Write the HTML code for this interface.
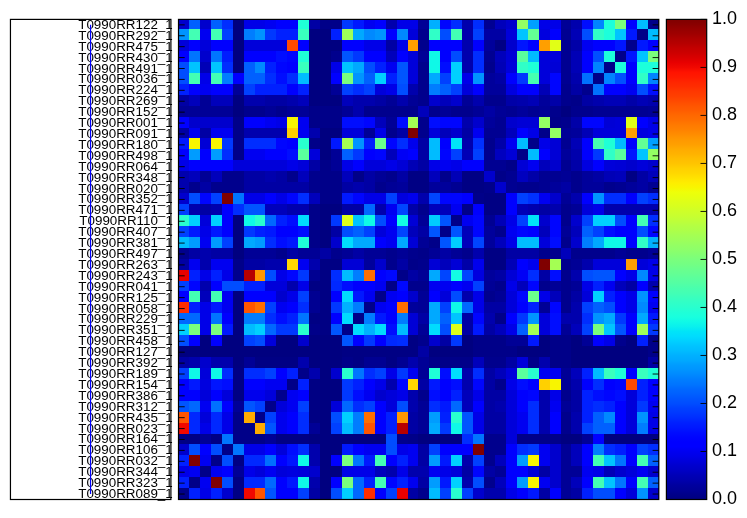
<!DOCTYPE html>
<html><head><meta charset="utf-8"><title>heatmap</title>
<style>
html,body{margin:0;padding:0;background:#fff}
body{width:747px;height:518px;position:relative;overflow:hidden;font-family:"Liberation Sans",sans-serif;color:#000}
svg{position:absolute;left:0;top:0}
.yl{will-change:transform;position:absolute;right:574.3px;height:12px;line-height:12px;font-size:12px;white-space:nowrap;transform-origin:100% 50%;transform:scaleX(1.115)}
.cl{will-change:transform;position:absolute;left:711.8px;height:18px;line-height:18px;font-size:18px;white-space:nowrap;transform-origin:0 50%;transform:scaleX(1)}
</style></head><body>

<svg width="747" height="518" viewBox="0 0 747 518">
<defs><linearGradient id="jet" x1="0" y1="1" x2="0" y2="0">
<stop offset="0" stop-color="#000080"/>
<stop offset="0.01" stop-color="#000089"/>
<stop offset="0.02" stop-color="#000096"/>
<stop offset="0.03" stop-color="#00009f"/>
<stop offset="0.04" stop-color="#0000ad"/>
<stop offset="0.05" stop-color="#0000b6"/>
<stop offset="0.06" stop-color="#0000c4"/>
<stop offset="0.07" stop-color="#0000cd"/>
<stop offset="0.08" stop-color="#0000da"/>
<stop offset="0.09" stop-color="#0000e8"/>
<stop offset="0.1" stop-color="#0000f1"/>
<stop offset="0.11" stop-color="#0000ff"/>
<stop offset="0.12" stop-color="#0000ff"/>
<stop offset="0.13" stop-color="#0005ff"/>
<stop offset="0.14" stop-color="#000dff"/>
<stop offset="0.15" stop-color="#0018ff"/>
<stop offset="0.16" stop-color="#0020ff"/>
<stop offset="0.17" stop-color="#002dff"/>
<stop offset="0.18" stop-color="#0038ff"/>
<stop offset="0.19" stop-color="#0040ff"/>
<stop offset="0.2" stop-color="#004dff"/>
<stop offset="0.21" stop-color="#0055ff"/>
<stop offset="0.22" stop-color="#0060ff"/>
<stop offset="0.23" stop-color="#0068ff"/>
<stop offset="0.24" stop-color="#0075ff"/>
<stop offset="0.25" stop-color="#007dff"/>
<stop offset="0.26" stop-color="#0089ff"/>
<stop offset="0.27" stop-color="#0094ff"/>
<stop offset="0.28" stop-color="#009cff"/>
<stop offset="0.29" stop-color="#00a9ff"/>
<stop offset="0.3" stop-color="#00b0ff"/>
<stop offset="0.31" stop-color="#00bcff"/>
<stop offset="0.32" stop-color="#00c4ff"/>
<stop offset="0.33" stop-color="#00d0ff"/>
<stop offset="0.34" stop-color="#00dcfe"/>
<stop offset="0.35" stop-color="#00e4f8"/>
<stop offset="0.36" stop-color="#09f0ee"/>
<stop offset="0.37" stop-color="#0ff9e7"/>
<stop offset="0.38" stop-color="#19ffde"/>
<stop offset="0.39" stop-color="#1fffd7"/>
<stop offset="0.4" stop-color="#29ffce"/>
<stop offset="0.41" stop-color="#30ffc7"/>
<stop offset="0.42" stop-color="#39ffbe"/>
<stop offset="0.43" stop-color="#43ffb4"/>
<stop offset="0.44" stop-color="#49ffad"/>
<stop offset="0.45" stop-color="#53ffa4"/>
<stop offset="0.46" stop-color="#5aff9d"/>
<stop offset="0.47" stop-color="#63ff94"/>
<stop offset="0.48" stop-color="#6aff8d"/>
<stop offset="0.49" stop-color="#73ff83"/>
<stop offset="0.5" stop-color="#7aff7d"/>
<stop offset="0.51" stop-color="#83ff73"/>
<stop offset="0.52" stop-color="#8dff6a"/>
<stop offset="0.53" stop-color="#94ff63"/>
<stop offset="0.54" stop-color="#9dff5a"/>
<stop offset="0.55" stop-color="#a4ff53"/>
<stop offset="0.56" stop-color="#adff49"/>
<stop offset="0.57" stop-color="#b4ff43"/>
<stop offset="0.58" stop-color="#beff39"/>
<stop offset="0.59" stop-color="#c7ff30"/>
<stop offset="0.6" stop-color="#ceff29"/>
<stop offset="0.61" stop-color="#d7ff1f"/>
<stop offset="0.62" stop-color="#deff19"/>
<stop offset="0.63" stop-color="#e7ff0f"/>
<stop offset="0.64" stop-color="#eeff09"/>
<stop offset="0.65" stop-color="#f8f500"/>
<stop offset="0.66" stop-color="#feed00"/>
<stop offset="0.67" stop-color="#ffe200"/>
<stop offset="0.68" stop-color="#ffd700"/>
<stop offset="0.69" stop-color="#ffd000"/>
<stop offset="0.7" stop-color="#ffc400"/>
<stop offset="0.71" stop-color="#ffbd00"/>
<stop offset="0.72" stop-color="#ffb200"/>
<stop offset="0.73" stop-color="#ffab00"/>
<stop offset="0.74" stop-color="#ff9f00"/>
<stop offset="0.75" stop-color="#ff9800"/>
<stop offset="0.76" stop-color="#ff8d00"/>
<stop offset="0.77" stop-color="#ff8200"/>
<stop offset="0.78" stop-color="#ff7a00"/>
<stop offset="0.79" stop-color="#ff6f00"/>
<stop offset="0.8" stop-color="#ff6800"/>
<stop offset="0.81" stop-color="#ff5d00"/>
<stop offset="0.82" stop-color="#ff5500"/>
<stop offset="0.83" stop-color="#ff4a00"/>
<stop offset="0.84" stop-color="#ff3f00"/>
<stop offset="0.85" stop-color="#ff3800"/>
<stop offset="0.86" stop-color="#ff2d00"/>
<stop offset="0.87" stop-color="#ff2500"/>
<stop offset="0.88" stop-color="#ff1a00"/>
<stop offset="0.89" stop-color="#ff1300"/>
<stop offset="0.9" stop-color="#f10800"/>
<stop offset="0.91" stop-color="#e80000"/>
<stop offset="0.92" stop-color="#da0000"/>
<stop offset="0.93" stop-color="#cd0000"/>
<stop offset="0.94" stop-color="#c40000"/>
<stop offset="0.95" stop-color="#b60000"/>
<stop offset="0.96" stop-color="#ad0000"/>
<stop offset="0.97" stop-color="#9f0000"/>
<stop offset="0.98" stop-color="#960000"/>
<stop offset="0.99" stop-color="#890000"/>
<stop offset="1" stop-color="#800000"/>
</linearGradient></defs>
<g shape-rendering="crispEdges">
<rect x="178" y="19" width="11" height="10" fill="#0000cd"/>
<rect x="189" y="19" width="11" height="10" fill="#0060ff"/>
<rect x="200" y="19" width="11" height="10" fill="#0000cd"/>
<rect x="211" y="19" width="11" height="10" fill="#0060ff"/>
<rect x="222" y="19" width="11" height="10" fill="#002dff"/>
<rect x="233" y="19" width="11" height="10" fill="#000080"/>
<rect x="244" y="19" width="11" height="10" fill="#0000e8"/>
<rect x="255" y="19" width="10" height="10" fill="#0000e8"/>
<rect x="265" y="19" width="11" height="10" fill="#0000f1"/>
<rect x="276" y="19" width="11" height="10" fill="#0000ff"/>
<rect x="287" y="19" width="11" height="10" fill="#0000ff"/>
<rect x="298" y="19" width="11" height="10" fill="#1fffd7"/>
<rect x="309" y="19" width="11" height="10" fill="#0000a4"/>
<rect x="320" y="19" width="11" height="10" fill="#000089"/>
<rect x="331" y="19" width="11" height="10" fill="#000089"/>
<rect x="342" y="19" width="11" height="10" fill="#0038ff"/>
<rect x="353" y="19" width="11" height="10" fill="#0018ff"/>
<rect x="364" y="19" width="11" height="10" fill="#0000f1"/>
<rect x="375" y="19" width="11" height="10" fill="#0000ff"/>
<rect x="386" y="19" width="11" height="10" fill="#0000ad"/>
<rect x="397" y="19" width="11" height="10" fill="#0000e8"/>
<rect x="408" y="19" width="10" height="10" fill="#0000e8"/>
<rect x="418" y="19" width="11" height="10" fill="#000096"/>
<rect x="429" y="19" width="11" height="10" fill="#00b0ff"/>
<rect x="440" y="19" width="11" height="10" fill="#0005ff"/>
<rect x="451" y="19" width="11" height="10" fill="#002dff"/>
<rect x="462" y="19" width="11" height="10" fill="#0000ad"/>
<rect x="473" y="19" width="11" height="10" fill="#002dff"/>
<rect x="484" y="19" width="11" height="10" fill="#000092"/>
<rect x="495" y="19" width="11" height="10" fill="#0000bb"/>
<rect x="506" y="19" width="11" height="10" fill="#0000cd"/>
<rect x="517" y="19" width="11" height="10" fill="#94ff63"/>
<rect x="528" y="19" width="11" height="10" fill="#00a0ff"/>
<rect x="539" y="19" width="11" height="10" fill="#0000e8"/>
<rect x="550" y="19" width="11" height="10" fill="#0000e8"/>
<rect x="561" y="19" width="10" height="10" fill="#000096"/>
<rect x="571" y="19" width="11" height="10" fill="#0000ad"/>
<rect x="582" y="19" width="11" height="10" fill="#000dff"/>
<rect x="593" y="19" width="11" height="10" fill="#0084ff"/>
<rect x="604" y="19" width="11" height="10" fill="#1cffdb"/>
<rect x="615" y="19" width="11" height="10" fill="#7aff7d"/>
<rect x="626" y="19" width="11" height="10" fill="#0000ff"/>
<rect x="637" y="19" width="11" height="10" fill="#00bcff"/>
<rect x="648" y="19" width="11" height="10" fill="#000089"/>
<rect x="178" y="29" width="11" height="11" fill="#0094ff"/>
<rect x="189" y="29" width="11" height="11" fill="#43ffb4"/>
<rect x="200" y="29" width="11" height="11" fill="#0000f1"/>
<rect x="211" y="29" width="11" height="11" fill="#43ffb4"/>
<rect x="222" y="29" width="11" height="11" fill="#0040ff"/>
<rect x="233" y="29" width="11" height="11" fill="#000080"/>
<rect x="244" y="29" width="11" height="11" fill="#007dff"/>
<rect x="255" y="29" width="10" height="11" fill="#0094ff"/>
<rect x="265" y="29" width="11" height="11" fill="#0038ff"/>
<rect x="276" y="29" width="11" height="11" fill="#0020ff"/>
<rect x="287" y="29" width="11" height="11" fill="#0020ff"/>
<rect x="298" y="29" width="11" height="11" fill="#39ffbe"/>
<rect x="309" y="29" width="11" height="11" fill="#000080"/>
<rect x="320" y="29" width="11" height="11" fill="#000080"/>
<rect x="331" y="29" width="11" height="11" fill="#0020ff"/>
<rect x="342" y="29" width="11" height="11" fill="#9dff5a"/>
<rect x="353" y="29" width="11" height="11" fill="#00a9ff"/>
<rect x="364" y="29" width="11" height="11" fill="#0089ff"/>
<rect x="375" y="29" width="11" height="11" fill="#0094ff"/>
<rect x="386" y="29" width="11" height="11" fill="#0000ff"/>
<rect x="397" y="29" width="11" height="11" fill="#0089ff"/>
<rect x="408" y="29" width="10" height="11" fill="#0000da"/>
<rect x="418" y="29" width="11" height="11" fill="#00008d"/>
<rect x="429" y="29" width="11" height="11" fill="#30ffc7"/>
<rect x="440" y="29" width="11" height="11" fill="#004dff"/>
<rect x="451" y="29" width="11" height="11" fill="#43ffb4"/>
<rect x="462" y="29" width="11" height="11" fill="#0000ad"/>
<rect x="473" y="29" width="11" height="11" fill="#0040ff"/>
<rect x="484" y="29" width="11" height="11" fill="#0000a4"/>
<rect x="495" y="29" width="11" height="11" fill="#0000a4"/>
<rect x="506" y="29" width="11" height="11" fill="#0000da"/>
<rect x="517" y="29" width="11" height="11" fill="#00c4ff"/>
<rect x="528" y="29" width="11" height="11" fill="#63ff94"/>
<rect x="539" y="29" width="11" height="11" fill="#0000df"/>
<rect x="550" y="29" width="11" height="11" fill="#0000ff"/>
<rect x="561" y="29" width="10" height="11" fill="#000092"/>
<rect x="571" y="29" width="11" height="11" fill="#0000b6"/>
<rect x="582" y="29" width="11" height="11" fill="#004dff"/>
<rect x="593" y="29" width="11" height="11" fill="#30ffc7"/>
<rect x="604" y="29" width="11" height="11" fill="#1cffdb"/>
<rect x="615" y="29" width="11" height="11" fill="#00c4ff"/>
<rect x="626" y="29" width="11" height="11" fill="#0018ff"/>
<rect x="637" y="29" width="11" height="11" fill="#000089"/>
<rect x="648" y="29" width="11" height="11" fill="#00bcff"/>
<rect x="178" y="40" width="11" height="11" fill="#0000da"/>
<rect x="189" y="40" width="11" height="11" fill="#0000ff"/>
<rect x="200" y="40" width="11" height="11" fill="#0000da"/>
<rect x="211" y="40" width="11" height="11" fill="#0000ff"/>
<rect x="222" y="40" width="11" height="11" fill="#0000ff"/>
<rect x="233" y="40" width="11" height="11" fill="#000080"/>
<rect x="244" y="40" width="11" height="11" fill="#0000da"/>
<rect x="255" y="40" width="10" height="11" fill="#0000da"/>
<rect x="265" y="40" width="11" height="11" fill="#0000da"/>
<rect x="276" y="40" width="11" height="11" fill="#0000da"/>
<rect x="287" y="40" width="11" height="11" fill="#ff4a00"/>
<rect x="298" y="40" width="11" height="11" fill="#0000ff"/>
<rect x="309" y="40" width="11" height="11" fill="#000080"/>
<rect x="320" y="40" width="11" height="11" fill="#000080"/>
<rect x="331" y="40" width="11" height="11" fill="#000080"/>
<rect x="342" y="40" width="11" height="11" fill="#0000ff"/>
<rect x="353" y="40" width="11" height="11" fill="#0000ff"/>
<rect x="364" y="40" width="11" height="11" fill="#0000e8"/>
<rect x="375" y="40" width="11" height="11" fill="#0000e8"/>
<rect x="386" y="40" width="11" height="11" fill="#0000a4"/>
<rect x="397" y="40" width="11" height="11" fill="#0000e8"/>
<rect x="408" y="40" width="10" height="11" fill="#ff9f00"/>
<rect x="418" y="40" width="11" height="11" fill="#00008d"/>
<rect x="429" y="40" width="11" height="11" fill="#0000ff"/>
<rect x="440" y="40" width="11" height="11" fill="#0000ff"/>
<rect x="451" y="40" width="11" height="11" fill="#0000ff"/>
<rect x="462" y="40" width="11" height="11" fill="#0000ad"/>
<rect x="473" y="40" width="11" height="11" fill="#0000ff"/>
<rect x="484" y="40" width="11" height="11" fill="#00009b"/>
<rect x="495" y="40" width="11" height="11" fill="#000084"/>
<rect x="506" y="40" width="11" height="11" fill="#0000cd"/>
<rect x="517" y="40" width="11" height="11" fill="#0015ff"/>
<rect x="528" y="40" width="11" height="11" fill="#0000ff"/>
<rect x="539" y="40" width="11" height="11" fill="#ff9f00"/>
<rect x="550" y="40" width="11" height="11" fill="#e1ff16"/>
<rect x="561" y="40" width="10" height="11" fill="#000092"/>
<rect x="571" y="40" width="11" height="11" fill="#0000a8"/>
<rect x="582" y="40" width="11" height="11" fill="#0000f1"/>
<rect x="593" y="40" width="11" height="11" fill="#0000ff"/>
<rect x="604" y="40" width="11" height="11" fill="#0000ff"/>
<rect x="615" y="40" width="11" height="11" fill="#0015ff"/>
<rect x="626" y="40" width="11" height="11" fill="#00008d"/>
<rect x="637" y="40" width="11" height="11" fill="#0018ff"/>
<rect x="648" y="40" width="11" height="11" fill="#0000ff"/>
<rect x="178" y="51" width="11" height="11" fill="#0000ff"/>
<rect x="189" y="51" width="11" height="11" fill="#0075ff"/>
<rect x="200" y="51" width="11" height="11" fill="#0000cd"/>
<rect x="211" y="51" width="11" height="11" fill="#0075ff"/>
<rect x="222" y="51" width="11" height="11" fill="#001dff"/>
<rect x="233" y="51" width="11" height="11" fill="#000080"/>
<rect x="244" y="51" width="11" height="11" fill="#0000ff"/>
<rect x="255" y="51" width="10" height="11" fill="#0000ff"/>
<rect x="265" y="51" width="11" height="11" fill="#0000ff"/>
<rect x="276" y="51" width="11" height="11" fill="#000dff"/>
<rect x="287" y="51" width="11" height="11" fill="#0005ff"/>
<rect x="298" y="51" width="11" height="11" fill="#1fffd7"/>
<rect x="309" y="51" width="11" height="11" fill="#000080"/>
<rect x="320" y="51" width="11" height="11" fill="#000080"/>
<rect x="331" y="51" width="11" height="11" fill="#00008d"/>
<rect x="342" y="51" width="11" height="11" fill="#0055ff"/>
<rect x="353" y="51" width="11" height="11" fill="#0038ff"/>
<rect x="364" y="51" width="11" height="11" fill="#0000ff"/>
<rect x="375" y="51" width="11" height="11" fill="#0000ff"/>
<rect x="386" y="51" width="11" height="11" fill="#0000bb"/>
<rect x="397" y="51" width="11" height="11" fill="#0000ff"/>
<rect x="408" y="51" width="10" height="11" fill="#0000da"/>
<rect x="418" y="51" width="11" height="11" fill="#000096"/>
<rect x="429" y="51" width="11" height="11" fill="#0ff9e7"/>
<rect x="440" y="51" width="11" height="11" fill="#0000ff"/>
<rect x="451" y="51" width="11" height="11" fill="#004dff"/>
<rect x="462" y="51" width="11" height="11" fill="#0000ad"/>
<rect x="473" y="51" width="11" height="11" fill="#002dff"/>
<rect x="484" y="51" width="11" height="11" fill="#000092"/>
<rect x="495" y="51" width="11" height="11" fill="#0000bb"/>
<rect x="506" y="51" width="11" height="11" fill="#0000d6"/>
<rect x="517" y="51" width="11" height="11" fill="#5aff9d"/>
<rect x="528" y="51" width="11" height="11" fill="#00b9ff"/>
<rect x="539" y="51" width="11" height="11" fill="#0000da"/>
<rect x="550" y="51" width="11" height="11" fill="#0000da"/>
<rect x="561" y="51" width="10" height="11" fill="#000092"/>
<rect x="571" y="51" width="11" height="11" fill="#0000b6"/>
<rect x="582" y="51" width="11" height="11" fill="#0000ff"/>
<rect x="593" y="51" width="11" height="11" fill="#0050ff"/>
<rect x="604" y="51" width="11" height="11" fill="#1cffdb"/>
<rect x="615" y="51" width="11" height="11" fill="#000089"/>
<rect x="626" y="51" width="11" height="11" fill="#0015ff"/>
<rect x="637" y="51" width="11" height="11" fill="#00c4ff"/>
<rect x="648" y="51" width="11" height="11" fill="#7aff7d"/>
<rect x="178" y="62" width="11" height="11" fill="#004dff"/>
<rect x="189" y="62" width="11" height="11" fill="#00c4ff"/>
<rect x="200" y="62" width="11" height="11" fill="#0000b6"/>
<rect x="211" y="62" width="11" height="11" fill="#00c4ff"/>
<rect x="222" y="62" width="11" height="11" fill="#002dff"/>
<rect x="233" y="62" width="11" height="11" fill="#000080"/>
<rect x="244" y="62" width="11" height="11" fill="#0060ff"/>
<rect x="255" y="62" width="10" height="11" fill="#0089ff"/>
<rect x="265" y="62" width="11" height="11" fill="#0020ff"/>
<rect x="276" y="62" width="11" height="11" fill="#0005ff"/>
<rect x="287" y="62" width="11" height="11" fill="#0000ff"/>
<rect x="298" y="62" width="11" height="11" fill="#39ffbe"/>
<rect x="309" y="62" width="11" height="11" fill="#000080"/>
<rect x="320" y="62" width="11" height="11" fill="#000080"/>
<rect x="331" y="62" width="11" height="11" fill="#0000e8"/>
<rect x="342" y="62" width="11" height="11" fill="#00c4ff"/>
<rect x="353" y="62" width="11" height="11" fill="#00a9ff"/>
<rect x="364" y="62" width="11" height="11" fill="#004dff"/>
<rect x="375" y="62" width="11" height="11" fill="#0020ff"/>
<rect x="386" y="62" width="11" height="11" fill="#0000f1"/>
<rect x="397" y="62" width="11" height="11" fill="#0055ff"/>
<rect x="408" y="62" width="10" height="11" fill="#0000da"/>
<rect x="418" y="62" width="11" height="11" fill="#00008d"/>
<rect x="429" y="62" width="11" height="11" fill="#0ff9e7"/>
<rect x="440" y="62" width="11" height="11" fill="#000dff"/>
<rect x="451" y="62" width="11" height="11" fill="#00d0ff"/>
<rect x="462" y="62" width="11" height="11" fill="#0000ad"/>
<rect x="473" y="62" width="11" height="11" fill="#002dff"/>
<rect x="484" y="62" width="11" height="11" fill="#00008d"/>
<rect x="495" y="62" width="11" height="11" fill="#0000b6"/>
<rect x="506" y="62" width="11" height="11" fill="#0000da"/>
<rect x="517" y="62" width="11" height="11" fill="#30ffc7"/>
<rect x="528" y="62" width="11" height="11" fill="#1fffd7"/>
<rect x="539" y="62" width="11" height="11" fill="#0000da"/>
<rect x="550" y="62" width="11" height="11" fill="#0000d6"/>
<rect x="561" y="62" width="10" height="11" fill="#000092"/>
<rect x="571" y="62" width="11" height="11" fill="#0000b6"/>
<rect x="582" y="62" width="11" height="11" fill="#0000ff"/>
<rect x="593" y="62" width="11" height="11" fill="#0084ff"/>
<rect x="604" y="62" width="11" height="11" fill="#000089"/>
<rect x="615" y="62" width="11" height="11" fill="#1cffdb"/>
<rect x="626" y="62" width="11" height="11" fill="#0000ff"/>
<rect x="637" y="62" width="11" height="11" fill="#1cffdb"/>
<rect x="648" y="62" width="11" height="11" fill="#1cffdb"/>
<rect x="178" y="73" width="11" height="11" fill="#004dff"/>
<rect x="189" y="73" width="11" height="11" fill="#43ffb4"/>
<rect x="200" y="73" width="11" height="11" fill="#0000e8"/>
<rect x="211" y="73" width="11" height="11" fill="#43ffb4"/>
<rect x="222" y="73" width="11" height="11" fill="#007dff"/>
<rect x="233" y="73" width="11" height="11" fill="#0000ff"/>
<rect x="244" y="73" width="11" height="11" fill="#0060ff"/>
<rect x="255" y="73" width="10" height="11" fill="#0060ff"/>
<rect x="265" y="73" width="11" height="11" fill="#002dff"/>
<rect x="276" y="73" width="11" height="11" fill="#000dff"/>
<rect x="287" y="73" width="11" height="11" fill="#002dff"/>
<rect x="298" y="73" width="11" height="11" fill="#00bcff"/>
<rect x="309" y="73" width="11" height="11" fill="#000080"/>
<rect x="320" y="73" width="11" height="11" fill="#000080"/>
<rect x="331" y="73" width="11" height="11" fill="#0000ff"/>
<rect x="342" y="73" width="11" height="11" fill="#7aff7d"/>
<rect x="353" y="73" width="11" height="11" fill="#0094ff"/>
<rect x="364" y="73" width="11" height="11" fill="#0060ff"/>
<rect x="375" y="73" width="11" height="11" fill="#00d0ff"/>
<rect x="386" y="73" width="11" height="11" fill="#0020ff"/>
<rect x="397" y="73" width="11" height="11" fill="#0055ff"/>
<rect x="408" y="73" width="10" height="11" fill="#0000da"/>
<rect x="418" y="73" width="11" height="11" fill="#00008d"/>
<rect x="429" y="73" width="11" height="11" fill="#00a9ff"/>
<rect x="440" y="73" width="11" height="11" fill="#0040ff"/>
<rect x="451" y="73" width="11" height="11" fill="#00d0ff"/>
<rect x="462" y="73" width="11" height="11" fill="#0000e8"/>
<rect x="473" y="73" width="11" height="11" fill="#0094ff"/>
<rect x="484" y="73" width="11" height="11" fill="#00009b"/>
<rect x="495" y="73" width="11" height="11" fill="#0000a4"/>
<rect x="506" y="73" width="11" height="11" fill="#0000ff"/>
<rect x="517" y="73" width="11" height="11" fill="#0038ff"/>
<rect x="528" y="73" width="11" height="11" fill="#46ffb1"/>
<rect x="539" y="73" width="11" height="11" fill="#0000da"/>
<rect x="550" y="73" width="11" height="11" fill="#0005ff"/>
<rect x="561" y="73" width="10" height="11" fill="#000092"/>
<rect x="571" y="73" width="11" height="11" fill="#0000ad"/>
<rect x="582" y="73" width="11" height="11" fill="#0070ff"/>
<rect x="593" y="73" width="11" height="11" fill="#000089"/>
<rect x="604" y="73" width="11" height="11" fill="#0084ff"/>
<rect x="615" y="73" width="11" height="11" fill="#0050ff"/>
<rect x="626" y="73" width="11" height="11" fill="#0000ff"/>
<rect x="637" y="73" width="11" height="11" fill="#30ffc7"/>
<rect x="648" y="73" width="11" height="11" fill="#0084ff"/>
<rect x="178" y="84" width="11" height="11" fill="#0020ff"/>
<rect x="189" y="84" width="11" height="11" fill="#0000ff"/>
<rect x="200" y="84" width="11" height="11" fill="#0000f1"/>
<rect x="211" y="84" width="11" height="11" fill="#0000ff"/>
<rect x="222" y="84" width="11" height="11" fill="#0000ff"/>
<rect x="233" y="84" width="11" height="11" fill="#000096"/>
<rect x="244" y="84" width="11" height="11" fill="#0040ff"/>
<rect x="255" y="84" width="10" height="11" fill="#0020ff"/>
<rect x="265" y="84" width="11" height="11" fill="#0020ff"/>
<rect x="276" y="84" width="11" height="11" fill="#0020ff"/>
<rect x="287" y="84" width="11" height="11" fill="#0000ff"/>
<rect x="298" y="84" width="11" height="11" fill="#0020ff"/>
<rect x="309" y="84" width="11" height="11" fill="#000080"/>
<rect x="320" y="84" width="11" height="11" fill="#000080"/>
<rect x="331" y="84" width="11" height="11" fill="#000096"/>
<rect x="342" y="84" width="11" height="11" fill="#0040ff"/>
<rect x="353" y="84" width="11" height="11" fill="#002dff"/>
<rect x="364" y="84" width="11" height="11" fill="#0040ff"/>
<rect x="375" y="84" width="11" height="11" fill="#0000da"/>
<rect x="386" y="84" width="11" height="11" fill="#0000e8"/>
<rect x="397" y="84" width="11" height="11" fill="#004dff"/>
<rect x="408" y="84" width="10" height="11" fill="#0000ad"/>
<rect x="418" y="84" width="11" height="11" fill="#00008d"/>
<rect x="429" y="84" width="11" height="11" fill="#007dff"/>
<rect x="440" y="84" width="11" height="11" fill="#0060ff"/>
<rect x="451" y="84" width="11" height="11" fill="#0040ff"/>
<rect x="462" y="84" width="11" height="11" fill="#0000da"/>
<rect x="473" y="84" width="11" height="11" fill="#0000ff"/>
<rect x="484" y="84" width="11" height="11" fill="#00009b"/>
<rect x="495" y="84" width="11" height="11" fill="#00009b"/>
<rect x="506" y="84" width="11" height="11" fill="#0000df"/>
<rect x="517" y="84" width="11" height="11" fill="#0000ff"/>
<rect x="528" y="84" width="11" height="11" fill="#0000ff"/>
<rect x="539" y="84" width="11" height="11" fill="#0000b6"/>
<rect x="550" y="84" width="11" height="11" fill="#0005ff"/>
<rect x="561" y="84" width="10" height="11" fill="#00008d"/>
<rect x="571" y="84" width="11" height="11" fill="#0000a4"/>
<rect x="582" y="84" width="11" height="11" fill="#00008d"/>
<rect x="593" y="84" width="11" height="11" fill="#0070ff"/>
<rect x="604" y="84" width="11" height="11" fill="#0000ff"/>
<rect x="615" y="84" width="11" height="11" fill="#0000ff"/>
<rect x="626" y="84" width="11" height="11" fill="#0000f1"/>
<rect x="637" y="84" width="11" height="11" fill="#004dff"/>
<rect x="648" y="84" width="11" height="11" fill="#000dff"/>
<rect x="178" y="95" width="11" height="11" fill="#0000a4"/>
<rect x="189" y="95" width="11" height="11" fill="#0000bb"/>
<rect x="200" y="95" width="11" height="11" fill="#000096"/>
<rect x="211" y="95" width="11" height="11" fill="#0000bb"/>
<rect x="222" y="95" width="11" height="11" fill="#0000bb"/>
<rect x="233" y="95" width="11" height="11" fill="#000080"/>
<rect x="244" y="95" width="11" height="11" fill="#0000ad"/>
<rect x="255" y="95" width="10" height="11" fill="#0000ad"/>
<rect x="265" y="95" width="11" height="11" fill="#0000a4"/>
<rect x="276" y="95" width="11" height="11" fill="#0000a4"/>
<rect x="287" y="95" width="11" height="11" fill="#0000ad"/>
<rect x="298" y="95" width="11" height="11" fill="#0000bb"/>
<rect x="309" y="95" width="11" height="11" fill="#000080"/>
<rect x="320" y="95" width="11" height="11" fill="#000080"/>
<rect x="331" y="95" width="11" height="11" fill="#000080"/>
<rect x="342" y="95" width="11" height="11" fill="#0000bb"/>
<rect x="353" y="95" width="11" height="11" fill="#0000ad"/>
<rect x="364" y="95" width="11" height="11" fill="#0000ad"/>
<rect x="375" y="95" width="11" height="11" fill="#0000a4"/>
<rect x="386" y="95" width="11" height="11" fill="#000096"/>
<rect x="397" y="95" width="11" height="11" fill="#0000ad"/>
<rect x="408" y="95" width="10" height="11" fill="#000096"/>
<rect x="418" y="95" width="11" height="11" fill="#00008d"/>
<rect x="429" y="95" width="11" height="11" fill="#0000cd"/>
<rect x="440" y="95" width="11" height="11" fill="#0000bb"/>
<rect x="451" y="95" width="11" height="11" fill="#0000cd"/>
<rect x="462" y="95" width="11" height="11" fill="#000096"/>
<rect x="473" y="95" width="11" height="11" fill="#0000ad"/>
<rect x="484" y="95" width="11" height="11" fill="#00008d"/>
<rect x="495" y="95" width="11" height="11" fill="#00008d"/>
<rect x="506" y="95" width="11" height="11" fill="#0000a8"/>
<rect x="517" y="95" width="11" height="11" fill="#0000ad"/>
<rect x="528" y="95" width="11" height="11" fill="#0000b6"/>
<rect x="539" y="95" width="11" height="11" fill="#00009b"/>
<rect x="550" y="95" width="11" height="11" fill="#0000a8"/>
<rect x="561" y="95" width="10" height="11" fill="#00008d"/>
<rect x="571" y="95" width="11" height="11" fill="#000089"/>
<rect x="582" y="95" width="11" height="11" fill="#0000a4"/>
<rect x="593" y="95" width="11" height="11" fill="#0000ad"/>
<rect x="604" y="95" width="11" height="11" fill="#0000b6"/>
<rect x="615" y="95" width="11" height="11" fill="#0000b6"/>
<rect x="626" y="95" width="11" height="11" fill="#0000a8"/>
<rect x="637" y="95" width="11" height="11" fill="#0000b6"/>
<rect x="648" y="95" width="11" height="11" fill="#0000ad"/>
<rect x="178" y="106" width="11" height="11" fill="#000096"/>
<rect x="189" y="106" width="11" height="11" fill="#000096"/>
<rect x="200" y="106" width="11" height="11" fill="#000096"/>
<rect x="211" y="106" width="11" height="11" fill="#000096"/>
<rect x="222" y="106" width="11" height="11" fill="#000096"/>
<rect x="233" y="106" width="11" height="11" fill="#000080"/>
<rect x="244" y="106" width="11" height="11" fill="#00008d"/>
<rect x="255" y="106" width="10" height="11" fill="#00008d"/>
<rect x="265" y="106" width="11" height="11" fill="#000096"/>
<rect x="276" y="106" width="11" height="11" fill="#00008d"/>
<rect x="287" y="106" width="11" height="11" fill="#000096"/>
<rect x="298" y="106" width="11" height="11" fill="#000096"/>
<rect x="309" y="106" width="11" height="11" fill="#000089"/>
<rect x="320" y="106" width="11" height="11" fill="#000089"/>
<rect x="331" y="106" width="11" height="11" fill="#000089"/>
<rect x="342" y="106" width="11" height="11" fill="#000096"/>
<rect x="353" y="106" width="11" height="11" fill="#0000ad"/>
<rect x="364" y="106" width="11" height="11" fill="#00008d"/>
<rect x="375" y="106" width="11" height="11" fill="#00008d"/>
<rect x="386" y="106" width="11" height="11" fill="#00008d"/>
<rect x="397" y="106" width="11" height="11" fill="#00008d"/>
<rect x="408" y="106" width="10" height="11" fill="#00008d"/>
<rect x="418" y="106" width="11" height="11" fill="#0000bb"/>
<rect x="429" y="106" width="11" height="11" fill="#00008d"/>
<rect x="440" y="106" width="11" height="11" fill="#000096"/>
<rect x="451" y="106" width="11" height="11" fill="#00008d"/>
<rect x="462" y="106" width="11" height="11" fill="#00008d"/>
<rect x="473" y="106" width="11" height="11" fill="#000096"/>
<rect x="484" y="106" width="11" height="11" fill="#0000a4"/>
<rect x="495" y="106" width="11" height="11" fill="#000096"/>
<rect x="506" y="106" width="11" height="11" fill="#000092"/>
<rect x="517" y="106" width="11" height="11" fill="#00009b"/>
<rect x="528" y="106" width="11" height="11" fill="#000092"/>
<rect x="539" y="106" width="11" height="11" fill="#000096"/>
<rect x="550" y="106" width="11" height="11" fill="#00008d"/>
<rect x="561" y="106" width="10" height="11" fill="#000080"/>
<rect x="571" y="106" width="11" height="11" fill="#00008d"/>
<rect x="582" y="106" width="11" height="11" fill="#00008d"/>
<rect x="593" y="106" width="11" height="11" fill="#000092"/>
<rect x="604" y="106" width="11" height="11" fill="#000092"/>
<rect x="615" y="106" width="11" height="11" fill="#000092"/>
<rect x="626" y="106" width="11" height="11" fill="#000092"/>
<rect x="637" y="106" width="11" height="11" fill="#000092"/>
<rect x="648" y="106" width="11" height="11" fill="#000096"/>
<rect x="178" y="117" width="11" height="11" fill="#0000ff"/>
<rect x="189" y="117" width="11" height="11" fill="#0000cd"/>
<rect x="200" y="117" width="11" height="11" fill="#0000cd"/>
<rect x="211" y="117" width="11" height="11" fill="#0000cd"/>
<rect x="222" y="117" width="11" height="11" fill="#0000cd"/>
<rect x="233" y="117" width="11" height="11" fill="#000089"/>
<rect x="244" y="117" width="11" height="11" fill="#0000ff"/>
<rect x="255" y="117" width="10" height="11" fill="#0000ff"/>
<rect x="265" y="117" width="11" height="11" fill="#0000f1"/>
<rect x="276" y="117" width="11" height="11" fill="#0000e8"/>
<rect x="287" y="117" width="11" height="11" fill="#f8f500"/>
<rect x="298" y="117" width="11" height="11" fill="#0000f1"/>
<rect x="309" y="117" width="11" height="11" fill="#000089"/>
<rect x="320" y="117" width="11" height="11" fill="#000089"/>
<rect x="331" y="117" width="11" height="11" fill="#000089"/>
<rect x="342" y="117" width="11" height="11" fill="#000dff"/>
<rect x="353" y="117" width="11" height="11" fill="#000dff"/>
<rect x="364" y="117" width="11" height="11" fill="#0005ff"/>
<rect x="375" y="117" width="11" height="11" fill="#0000bb"/>
<rect x="386" y="117" width="11" height="11" fill="#000096"/>
<rect x="397" y="117" width="11" height="11" fill="#000dff"/>
<rect x="408" y="117" width="10" height="11" fill="#a4ff53"/>
<rect x="418" y="117" width="11" height="11" fill="#00008d"/>
<rect x="429" y="117" width="11" height="11" fill="#000dff"/>
<rect x="440" y="117" width="11" height="11" fill="#0005ff"/>
<rect x="451" y="117" width="11" height="11" fill="#0005ff"/>
<rect x="462" y="117" width="11" height="11" fill="#0000ad"/>
<rect x="473" y="117" width="11" height="11" fill="#0000cd"/>
<rect x="484" y="117" width="11" height="11" fill="#00009b"/>
<rect x="495" y="117" width="11" height="11" fill="#000092"/>
<rect x="506" y="117" width="11" height="11" fill="#0000cd"/>
<rect x="517" y="117" width="11" height="11" fill="#0000d6"/>
<rect x="528" y="117" width="11" height="11" fill="#0000d6"/>
<rect x="539" y="117" width="11" height="11" fill="#94ff63"/>
<rect x="550" y="117" width="11" height="11" fill="#000089"/>
<rect x="561" y="117" width="10" height="11" fill="#00008d"/>
<rect x="571" y="117" width="11" height="11" fill="#0000a8"/>
<rect x="582" y="117" width="11" height="11" fill="#0005ff"/>
<rect x="593" y="117" width="11" height="11" fill="#0005ff"/>
<rect x="604" y="117" width="11" height="11" fill="#0000d6"/>
<rect x="615" y="117" width="11" height="11" fill="#0000da"/>
<rect x="626" y="117" width="11" height="11" fill="#e1ff16"/>
<rect x="637" y="117" width="11" height="11" fill="#0000ff"/>
<rect x="648" y="117" width="11" height="11" fill="#0000e8"/>
<rect x="178" y="128" width="11" height="10" fill="#0000a4"/>
<rect x="189" y="128" width="11" height="10" fill="#0000f1"/>
<rect x="200" y="128" width="11" height="10" fill="#0000a4"/>
<rect x="211" y="128" width="11" height="10" fill="#0000f1"/>
<rect x="222" y="128" width="11" height="10" fill="#0000f1"/>
<rect x="233" y="128" width="11" height="10" fill="#000089"/>
<rect x="244" y="128" width="11" height="10" fill="#0000ad"/>
<rect x="255" y="128" width="10" height="10" fill="#0000ad"/>
<rect x="265" y="128" width="11" height="10" fill="#0000ad"/>
<rect x="276" y="128" width="11" height="10" fill="#0000ad"/>
<rect x="287" y="128" width="11" height="10" fill="#ffd000"/>
<rect x="298" y="128" width="11" height="10" fill="#0000f1"/>
<rect x="309" y="128" width="11" height="10" fill="#0000ad"/>
<rect x="320" y="128" width="11" height="10" fill="#000080"/>
<rect x="331" y="128" width="11" height="10" fill="#000080"/>
<rect x="342" y="128" width="11" height="10" fill="#0000da"/>
<rect x="353" y="128" width="11" height="10" fill="#0000da"/>
<rect x="364" y="128" width="11" height="10" fill="#000096"/>
<rect x="375" y="128" width="11" height="10" fill="#0000e8"/>
<rect x="386" y="128" width="11" height="10" fill="#00008d"/>
<rect x="397" y="128" width="11" height="10" fill="#0000a4"/>
<rect x="408" y="128" width="10" height="10" fill="#800000"/>
<rect x="418" y="128" width="11" height="10" fill="#00008d"/>
<rect x="429" y="128" width="11" height="10" fill="#0000da"/>
<rect x="440" y="128" width="11" height="10" fill="#0000bb"/>
<rect x="451" y="128" width="11" height="10" fill="#0000cd"/>
<rect x="462" y="128" width="11" height="10" fill="#0000a4"/>
<rect x="473" y="128" width="11" height="10" fill="#0000f1"/>
<rect x="484" y="128" width="11" height="10" fill="#000092"/>
<rect x="495" y="128" width="11" height="10" fill="#000092"/>
<rect x="506" y="128" width="11" height="10" fill="#0000bb"/>
<rect x="517" y="128" width="11" height="10" fill="#0000ff"/>
<rect x="528" y="128" width="11" height="10" fill="#0000e8"/>
<rect x="539" y="128" width="11" height="10" fill="#000089"/>
<rect x="550" y="128" width="11" height="10" fill="#94ff63"/>
<rect x="561" y="128" width="10" height="10" fill="#000096"/>
<rect x="571" y="128" width="11" height="10" fill="#00009b"/>
<rect x="582" y="128" width="11" height="10" fill="#0000b6"/>
<rect x="593" y="128" width="11" height="10" fill="#0000da"/>
<rect x="604" y="128" width="11" height="10" fill="#0000da"/>
<rect x="615" y="128" width="11" height="10" fill="#0000da"/>
<rect x="626" y="128" width="11" height="10" fill="#ff9f00"/>
<rect x="637" y="128" width="11" height="10" fill="#0000df"/>
<rect x="648" y="128" width="11" height="10" fill="#0000e8"/>
<rect x="178" y="138" width="11" height="11" fill="#0018ff"/>
<rect x="189" y="138" width="11" height="11" fill="#f8f500"/>
<rect x="200" y="138" width="11" height="11" fill="#0000d6"/>
<rect x="211" y="138" width="11" height="11" fill="#f8f500"/>
<rect x="222" y="138" width="11" height="11" fill="#0038ff"/>
<rect x="233" y="138" width="11" height="11" fill="#000089"/>
<rect x="244" y="138" width="11" height="11" fill="#002dff"/>
<rect x="255" y="138" width="10" height="11" fill="#002dff"/>
<rect x="265" y="138" width="11" height="11" fill="#002dff"/>
<rect x="276" y="138" width="11" height="11" fill="#0005ff"/>
<rect x="287" y="138" width="11" height="11" fill="#0000ff"/>
<rect x="298" y="138" width="11" height="11" fill="#29ffce"/>
<rect x="309" y="138" width="11" height="11" fill="#000089"/>
<rect x="320" y="138" width="11" height="11" fill="#000080"/>
<rect x="331" y="138" width="11" height="11" fill="#0018ff"/>
<rect x="342" y="138" width="11" height="11" fill="#a4ff53"/>
<rect x="353" y="138" width="11" height="11" fill="#0094ff"/>
<rect x="364" y="138" width="11" height="11" fill="#0020ff"/>
<rect x="375" y="138" width="11" height="11" fill="#6aff8d"/>
<rect x="386" y="138" width="11" height="11" fill="#0005ff"/>
<rect x="397" y="138" width="11" height="11" fill="#002dff"/>
<rect x="408" y="138" width="10" height="11" fill="#0000ed"/>
<rect x="418" y="138" width="11" height="11" fill="#0000a4"/>
<rect x="429" y="138" width="11" height="11" fill="#00bcff"/>
<rect x="440" y="138" width="11" height="11" fill="#0000ff"/>
<rect x="451" y="138" width="11" height="11" fill="#00e4f8"/>
<rect x="462" y="138" width="11" height="11" fill="#0000ad"/>
<rect x="473" y="138" width="11" height="11" fill="#0030ff"/>
<rect x="484" y="138" width="11" height="11" fill="#00008d"/>
<rect x="495" y="138" width="11" height="11" fill="#0000a8"/>
<rect x="506" y="138" width="11" height="11" fill="#0000f1"/>
<rect x="517" y="138" width="11" height="11" fill="#00bcff"/>
<rect x="528" y="138" width="11" height="11" fill="#000089"/>
<rect x="539" y="138" width="11" height="11" fill="#0000e8"/>
<rect x="550" y="138" width="11" height="11" fill="#0000d6"/>
<rect x="561" y="138" width="10" height="11" fill="#000092"/>
<rect x="571" y="138" width="11" height="11" fill="#0000b6"/>
<rect x="582" y="138" width="11" height="11" fill="#0000ff"/>
<rect x="593" y="138" width="11" height="11" fill="#46ffb1"/>
<rect x="604" y="138" width="11" height="11" fill="#1fffd7"/>
<rect x="615" y="138" width="11" height="11" fill="#00b9ff"/>
<rect x="626" y="138" width="11" height="11" fill="#0000ff"/>
<rect x="637" y="138" width="11" height="11" fill="#63ff94"/>
<rect x="648" y="138" width="11" height="11" fill="#00a0ff"/>
<rect x="178" y="149" width="11" height="11" fill="#0000ff"/>
<rect x="189" y="149" width="11" height="11" fill="#009cff"/>
<rect x="200" y="149" width="11" height="11" fill="#0000ff"/>
<rect x="211" y="149" width="11" height="11" fill="#009cff"/>
<rect x="222" y="149" width="11" height="11" fill="#002dff"/>
<rect x="233" y="149" width="11" height="11" fill="#000089"/>
<rect x="244" y="149" width="11" height="11" fill="#0000f1"/>
<rect x="255" y="149" width="10" height="11" fill="#0000f1"/>
<rect x="265" y="149" width="11" height="11" fill="#0000ff"/>
<rect x="276" y="149" width="11" height="11" fill="#0000ff"/>
<rect x="287" y="149" width="11" height="11" fill="#000dff"/>
<rect x="298" y="149" width="11" height="11" fill="#5aff9d"/>
<rect x="309" y="149" width="11" height="11" fill="#0000da"/>
<rect x="320" y="149" width="11" height="11" fill="#000080"/>
<rect x="331" y="149" width="11" height="11" fill="#000096"/>
<rect x="342" y="149" width="11" height="11" fill="#0060ff"/>
<rect x="353" y="149" width="11" height="11" fill="#0038ff"/>
<rect x="364" y="149" width="11" height="11" fill="#0000ff"/>
<rect x="375" y="149" width="11" height="11" fill="#0005ff"/>
<rect x="386" y="149" width="11" height="11" fill="#0000bb"/>
<rect x="397" y="149" width="11" height="11" fill="#0000f6"/>
<rect x="408" y="149" width="10" height="11" fill="#0000ff"/>
<rect x="418" y="149" width="11" height="11" fill="#0000a4"/>
<rect x="429" y="149" width="11" height="11" fill="#00bcff"/>
<rect x="440" y="149" width="11" height="11" fill="#0005ff"/>
<rect x="451" y="149" width="11" height="11" fill="#0040ff"/>
<rect x="462" y="149" width="11" height="11" fill="#0000b6"/>
<rect x="473" y="149" width="11" height="11" fill="#0040ff"/>
<rect x="484" y="149" width="11" height="11" fill="#00008d"/>
<rect x="495" y="149" width="11" height="11" fill="#0000bf"/>
<rect x="506" y="149" width="11" height="11" fill="#0000d6"/>
<rect x="517" y="149" width="11" height="11" fill="#000089"/>
<rect x="528" y="149" width="11" height="11" fill="#00bcff"/>
<rect x="539" y="149" width="11" height="11" fill="#0000ff"/>
<rect x="550" y="149" width="11" height="11" fill="#0000d6"/>
<rect x="561" y="149" width="10" height="11" fill="#00009b"/>
<rect x="571" y="149" width="11" height="11" fill="#0000ad"/>
<rect x="582" y="149" width="11" height="11" fill="#0000ff"/>
<rect x="593" y="149" width="11" height="11" fill="#0038ff"/>
<rect x="604" y="149" width="11" height="11" fill="#30ffc7"/>
<rect x="615" y="149" width="11" height="11" fill="#5aff9d"/>
<rect x="626" y="149" width="11" height="11" fill="#0015ff"/>
<rect x="637" y="149" width="11" height="11" fill="#00c4ff"/>
<rect x="648" y="149" width="11" height="11" fill="#94ff63"/>
<rect x="178" y="160" width="11" height="11" fill="#0000e8"/>
<rect x="189" y="160" width="11" height="11" fill="#0000ff"/>
<rect x="200" y="160" width="11" height="11" fill="#0000ff"/>
<rect x="211" y="160" width="11" height="11" fill="#0000ff"/>
<rect x="222" y="160" width="11" height="11" fill="#0000ff"/>
<rect x="233" y="160" width="11" height="11" fill="#0000da"/>
<rect x="244" y="160" width="11" height="11" fill="#0000da"/>
<rect x="255" y="160" width="10" height="11" fill="#0000da"/>
<rect x="265" y="160" width="11" height="11" fill="#0000da"/>
<rect x="276" y="160" width="11" height="11" fill="#0000da"/>
<rect x="287" y="160" width="11" height="11" fill="#0000e8"/>
<rect x="298" y="160" width="11" height="11" fill="#0000da"/>
<rect x="309" y="160" width="11" height="11" fill="#0000a4"/>
<rect x="320" y="160" width="11" height="11" fill="#000089"/>
<rect x="331" y="160" width="11" height="11" fill="#000096"/>
<rect x="342" y="160" width="11" height="11" fill="#0000e8"/>
<rect x="353" y="160" width="11" height="11" fill="#0000ff"/>
<rect x="364" y="160" width="11" height="11" fill="#0000da"/>
<rect x="375" y="160" width="11" height="11" fill="#0000da"/>
<rect x="386" y="160" width="11" height="11" fill="#0000e8"/>
<rect x="397" y="160" width="11" height="11" fill="#0000d6"/>
<rect x="408" y="160" width="10" height="11" fill="#0000b6"/>
<rect x="418" y="160" width="11" height="11" fill="#0000a4"/>
<rect x="429" y="160" width="11" height="11" fill="#0000e8"/>
<rect x="440" y="160" width="11" height="11" fill="#0000f1"/>
<rect x="451" y="160" width="11" height="11" fill="#0000e8"/>
<rect x="462" y="160" width="11" height="11" fill="#0000ff"/>
<rect x="473" y="160" width="11" height="11" fill="#0000ff"/>
<rect x="484" y="160" width="11" height="11" fill="#000092"/>
<rect x="495" y="160" width="11" height="11" fill="#000092"/>
<rect x="506" y="160" width="11" height="11" fill="#000089"/>
<rect x="517" y="160" width="11" height="11" fill="#0000d6"/>
<rect x="528" y="160" width="11" height="11" fill="#0000f1"/>
<rect x="539" y="160" width="11" height="11" fill="#0000bb"/>
<rect x="550" y="160" width="11" height="11" fill="#0000cd"/>
<rect x="561" y="160" width="10" height="11" fill="#000092"/>
<rect x="571" y="160" width="11" height="11" fill="#0000a8"/>
<rect x="582" y="160" width="11" height="11" fill="#0000df"/>
<rect x="593" y="160" width="11" height="11" fill="#0000ff"/>
<rect x="604" y="160" width="11" height="11" fill="#0000da"/>
<rect x="615" y="160" width="11" height="11" fill="#0000d6"/>
<rect x="626" y="160" width="11" height="11" fill="#0000cd"/>
<rect x="637" y="160" width="11" height="11" fill="#0000da"/>
<rect x="648" y="160" width="11" height="11" fill="#0000cd"/>
<rect x="178" y="171" width="11" height="11" fill="#0000ad"/>
<rect x="189" y="171" width="11" height="11" fill="#0000bb"/>
<rect x="200" y="171" width="11" height="11" fill="#000096"/>
<rect x="211" y="171" width="11" height="11" fill="#0000bb"/>
<rect x="222" y="171" width="11" height="11" fill="#00008d"/>
<rect x="233" y="171" width="11" height="11" fill="#00008d"/>
<rect x="244" y="171" width="11" height="11" fill="#0000a4"/>
<rect x="255" y="171" width="10" height="11" fill="#0000a4"/>
<rect x="265" y="171" width="11" height="11" fill="#0000ad"/>
<rect x="276" y="171" width="11" height="11" fill="#0000a4"/>
<rect x="287" y="171" width="11" height="11" fill="#00008d"/>
<rect x="298" y="171" width="11" height="11" fill="#0000bb"/>
<rect x="309" y="171" width="11" height="11" fill="#00008d"/>
<rect x="320" y="171" width="11" height="11" fill="#000089"/>
<rect x="331" y="171" width="11" height="11" fill="#000089"/>
<rect x="342" y="171" width="11" height="11" fill="#0000bb"/>
<rect x="353" y="171" width="11" height="11" fill="#000089"/>
<rect x="364" y="171" width="11" height="11" fill="#0000a4"/>
<rect x="375" y="171" width="11" height="11" fill="#000096"/>
<rect x="386" y="171" width="11" height="11" fill="#00008d"/>
<rect x="397" y="171" width="11" height="11" fill="#0000a4"/>
<rect x="408" y="171" width="10" height="11" fill="#000084"/>
<rect x="418" y="171" width="11" height="11" fill="#000084"/>
<rect x="429" y="171" width="11" height="11" fill="#0000bb"/>
<rect x="440" y="171" width="11" height="11" fill="#00008d"/>
<rect x="451" y="171" width="11" height="11" fill="#0000b6"/>
<rect x="462" y="171" width="11" height="11" fill="#000084"/>
<rect x="473" y="171" width="11" height="11" fill="#000084"/>
<rect x="484" y="171" width="11" height="11" fill="#0000cd"/>
<rect x="495" y="171" width="11" height="11" fill="#000089"/>
<rect x="506" y="171" width="11" height="11" fill="#000092"/>
<rect x="517" y="171" width="11" height="11" fill="#0000bf"/>
<rect x="528" y="171" width="11" height="11" fill="#0000a8"/>
<rect x="539" y="171" width="11" height="11" fill="#000092"/>
<rect x="550" y="171" width="11" height="11" fill="#000092"/>
<rect x="561" y="171" width="10" height="11" fill="#000096"/>
<rect x="571" y="171" width="11" height="11" fill="#00008d"/>
<rect x="582" y="171" width="11" height="11" fill="#00009b"/>
<rect x="593" y="171" width="11" height="11" fill="#0000a4"/>
<rect x="604" y="171" width="11" height="11" fill="#0000b6"/>
<rect x="615" y="171" width="11" height="11" fill="#0000bb"/>
<rect x="626" y="171" width="11" height="11" fill="#000084"/>
<rect x="637" y="171" width="11" height="11" fill="#0000a4"/>
<rect x="648" y="171" width="11" height="11" fill="#0000bb"/>
<rect x="178" y="182" width="11" height="11" fill="#0000ad"/>
<rect x="189" y="182" width="11" height="11" fill="#00008d"/>
<rect x="200" y="182" width="11" height="11" fill="#0000a4"/>
<rect x="211" y="182" width="11" height="11" fill="#00008d"/>
<rect x="222" y="182" width="11" height="11" fill="#00008d"/>
<rect x="233" y="182" width="11" height="11" fill="#00008d"/>
<rect x="244" y="182" width="11" height="11" fill="#0000a4"/>
<rect x="255" y="182" width="10" height="11" fill="#0000a4"/>
<rect x="265" y="182" width="11" height="11" fill="#0000a4"/>
<rect x="276" y="182" width="11" height="11" fill="#0000a4"/>
<rect x="287" y="182" width="11" height="11" fill="#0000a4"/>
<rect x="298" y="182" width="11" height="11" fill="#0000a4"/>
<rect x="309" y="182" width="11" height="11" fill="#00008d"/>
<rect x="320" y="182" width="11" height="11" fill="#000089"/>
<rect x="331" y="182" width="11" height="11" fill="#000089"/>
<rect x="342" y="182" width="11" height="11" fill="#0000a4"/>
<rect x="353" y="182" width="11" height="11" fill="#0000ad"/>
<rect x="364" y="182" width="11" height="11" fill="#0000a4"/>
<rect x="375" y="182" width="11" height="11" fill="#00008d"/>
<rect x="386" y="182" width="11" height="11" fill="#000096"/>
<rect x="397" y="182" width="11" height="11" fill="#00009b"/>
<rect x="408" y="182" width="10" height="11" fill="#000084"/>
<rect x="418" y="182" width="11" height="11" fill="#000084"/>
<rect x="429" y="182" width="11" height="11" fill="#00009b"/>
<rect x="440" y="182" width="11" height="11" fill="#00009b"/>
<rect x="451" y="182" width="11" height="11" fill="#000092"/>
<rect x="462" y="182" width="11" height="11" fill="#000084"/>
<rect x="473" y="182" width="11" height="11" fill="#000084"/>
<rect x="484" y="182" width="11" height="11" fill="#000089"/>
<rect x="495" y="182" width="11" height="11" fill="#0000cd"/>
<rect x="506" y="182" width="11" height="11" fill="#000092"/>
<rect x="517" y="182" width="11" height="11" fill="#00008d"/>
<rect x="528" y="182" width="11" height="11" fill="#00008d"/>
<rect x="539" y="182" width="11" height="11" fill="#000092"/>
<rect x="550" y="182" width="11" height="11" fill="#00009b"/>
<rect x="561" y="182" width="10" height="11" fill="#0000a4"/>
<rect x="571" y="182" width="11" height="11" fill="#00008d"/>
<rect x="582" y="182" width="11" height="11" fill="#00009b"/>
<rect x="593" y="182" width="11" height="11" fill="#00009b"/>
<rect x="604" y="182" width="11" height="11" fill="#00008d"/>
<rect x="615" y="182" width="11" height="11" fill="#000092"/>
<rect x="626" y="182" width="11" height="11" fill="#00009b"/>
<rect x="637" y="182" width="11" height="11" fill="#0000a4"/>
<rect x="648" y="182" width="11" height="11" fill="#000092"/>
<rect x="178" y="193" width="11" height="11" fill="#0000cd"/>
<rect x="189" y="193" width="11" height="11" fill="#004dff"/>
<rect x="200" y="193" width="11" height="11" fill="#0005ff"/>
<rect x="211" y="193" width="11" height="11" fill="#0040ff"/>
<rect x="222" y="193" width="11" height="11" fill="#800000"/>
<rect x="233" y="193" width="11" height="11" fill="#0075ff"/>
<rect x="244" y="193" width="11" height="11" fill="#0000e8"/>
<rect x="255" y="193" width="10" height="11" fill="#0000e8"/>
<rect x="265" y="193" width="11" height="11" fill="#0000ff"/>
<rect x="276" y="193" width="11" height="11" fill="#0000e8"/>
<rect x="287" y="193" width="11" height="11" fill="#0005ff"/>
<rect x="298" y="193" width="11" height="11" fill="#002dff"/>
<rect x="309" y="193" width="11" height="11" fill="#0000bb"/>
<rect x="320" y="193" width="11" height="11" fill="#000089"/>
<rect x="331" y="193" width="11" height="11" fill="#000089"/>
<rect x="342" y="193" width="11" height="11" fill="#0018ff"/>
<rect x="353" y="193" width="11" height="11" fill="#0005ff"/>
<rect x="364" y="193" width="11" height="11" fill="#0000e8"/>
<rect x="375" y="193" width="11" height="11" fill="#0000e8"/>
<rect x="386" y="193" width="11" height="11" fill="#0040ff"/>
<rect x="397" y="193" width="11" height="11" fill="#0000df"/>
<rect x="408" y="193" width="10" height="11" fill="#0000ed"/>
<rect x="418" y="193" width="11" height="11" fill="#0000ad"/>
<rect x="429" y="193" width="11" height="11" fill="#0045ff"/>
<rect x="440" y="193" width="11" height="11" fill="#0005ff"/>
<rect x="451" y="193" width="11" height="11" fill="#0005ff"/>
<rect x="462" y="193" width="11" height="11" fill="#0000ff"/>
<rect x="473" y="193" width="11" height="11" fill="#000089"/>
<rect x="484" y="193" width="11" height="11" fill="#000084"/>
<rect x="495" y="193" width="11" height="11" fill="#000084"/>
<rect x="506" y="193" width="11" height="11" fill="#0000ff"/>
<rect x="517" y="193" width="11" height="11" fill="#0040ff"/>
<rect x="528" y="193" width="11" height="11" fill="#0030ff"/>
<rect x="539" y="193" width="11" height="11" fill="#0000f1"/>
<rect x="550" y="193" width="11" height="11" fill="#0000cd"/>
<rect x="561" y="193" width="10" height="11" fill="#000096"/>
<rect x="571" y="193" width="11" height="11" fill="#0000ad"/>
<rect x="582" y="193" width="11" height="11" fill="#0000ff"/>
<rect x="593" y="193" width="11" height="11" fill="#0094ff"/>
<rect x="604" y="193" width="11" height="11" fill="#002dff"/>
<rect x="615" y="193" width="11" height="11" fill="#002dff"/>
<rect x="626" y="193" width="11" height="11" fill="#0000ff"/>
<rect x="637" y="193" width="11" height="11" fill="#0040ff"/>
<rect x="648" y="193" width="11" height="11" fill="#002dff"/>
<rect x="178" y="204" width="11" height="11" fill="#0040ff"/>
<rect x="189" y="204" width="11" height="11" fill="#0000ad"/>
<rect x="200" y="204" width="11" height="11" fill="#0000a4"/>
<rect x="211" y="204" width="11" height="11" fill="#0000ad"/>
<rect x="222" y="204" width="11" height="11" fill="#0000ff"/>
<rect x="233" y="204" width="11" height="11" fill="#002dff"/>
<rect x="244" y="204" width="11" height="11" fill="#0055ff"/>
<rect x="255" y="204" width="10" height="11" fill="#0055ff"/>
<rect x="265" y="204" width="11" height="11" fill="#0000bb"/>
<rect x="276" y="204" width="11" height="11" fill="#0000bb"/>
<rect x="287" y="204" width="11" height="11" fill="#0000ad"/>
<rect x="298" y="204" width="11" height="11" fill="#0000ad"/>
<rect x="309" y="204" width="11" height="11" fill="#000089"/>
<rect x="320" y="204" width="11" height="11" fill="#000080"/>
<rect x="331" y="204" width="11" height="11" fill="#000080"/>
<rect x="342" y="204" width="11" height="11" fill="#0000a4"/>
<rect x="353" y="204" width="11" height="11" fill="#0000a4"/>
<rect x="364" y="204" width="11" height="11" fill="#0068ff"/>
<rect x="375" y="204" width="11" height="11" fill="#0000ad"/>
<rect x="386" y="204" width="11" height="11" fill="#0000f1"/>
<rect x="397" y="204" width="11" height="11" fill="#0045ff"/>
<rect x="408" y="204" width="10" height="11" fill="#0000a8"/>
<rect x="418" y="204" width="11" height="11" fill="#00008d"/>
<rect x="429" y="204" width="11" height="11" fill="#0000bb"/>
<rect x="440" y="204" width="11" height="11" fill="#0000bb"/>
<rect x="451" y="204" width="11" height="11" fill="#0000f1"/>
<rect x="462" y="204" width="11" height="11" fill="#000089"/>
<rect x="473" y="204" width="11" height="11" fill="#0000ff"/>
<rect x="484" y="204" width="11" height="11" fill="#000084"/>
<rect x="495" y="204" width="11" height="11" fill="#000084"/>
<rect x="506" y="204" width="11" height="11" fill="#0000ff"/>
<rect x="517" y="204" width="11" height="11" fill="#0000b6"/>
<rect x="528" y="204" width="11" height="11" fill="#0000ad"/>
<rect x="539" y="204" width="11" height="11" fill="#0000a4"/>
<rect x="550" y="204" width="11" height="11" fill="#0000ad"/>
<rect x="561" y="204" width="10" height="11" fill="#00008d"/>
<rect x="571" y="204" width="11" height="11" fill="#000096"/>
<rect x="582" y="204" width="11" height="11" fill="#0000da"/>
<rect x="593" y="204" width="11" height="11" fill="#0000e8"/>
<rect x="604" y="204" width="11" height="11" fill="#0000ad"/>
<rect x="615" y="204" width="11" height="11" fill="#0000ad"/>
<rect x="626" y="204" width="11" height="11" fill="#0000ad"/>
<rect x="637" y="204" width="11" height="11" fill="#0000ad"/>
<rect x="648" y="204" width="11" height="11" fill="#0000ad"/>
<rect x="178" y="215" width="11" height="11" fill="#29ffce"/>
<rect x="189" y="215" width="11" height="11" fill="#00d0ff"/>
<rect x="200" y="215" width="11" height="11" fill="#0000da"/>
<rect x="211" y="215" width="11" height="11" fill="#00d0ff"/>
<rect x="222" y="215" width="11" height="11" fill="#0000ff"/>
<rect x="233" y="215" width="11" height="11" fill="#000080"/>
<rect x="244" y="215" width="11" height="11" fill="#0ff9e7"/>
<rect x="255" y="215" width="10" height="11" fill="#29ffce"/>
<rect x="265" y="215" width="11" height="11" fill="#0068ff"/>
<rect x="276" y="215" width="11" height="11" fill="#0020ff"/>
<rect x="287" y="215" width="11" height="11" fill="#000dff"/>
<rect x="298" y="215" width="11" height="11" fill="#00dcfe"/>
<rect x="309" y="215" width="11" height="11" fill="#000089"/>
<rect x="320" y="215" width="11" height="11" fill="#000080"/>
<rect x="331" y="215" width="11" height="11" fill="#0038ff"/>
<rect x="342" y="215" width="11" height="11" fill="#deff19"/>
<rect x="353" y="215" width="11" height="11" fill="#00c4ff"/>
<rect x="364" y="215" width="11" height="11" fill="#0ff9e7"/>
<rect x="375" y="215" width="11" height="11" fill="#004dff"/>
<rect x="386" y="215" width="11" height="11" fill="#0000ff"/>
<rect x="397" y="215" width="11" height="11" fill="#13fce4"/>
<rect x="408" y="215" width="10" height="11" fill="#0000d6"/>
<rect x="418" y="215" width="11" height="11" fill="#000096"/>
<rect x="429" y="215" width="11" height="11" fill="#00ccff"/>
<rect x="440" y="215" width="11" height="11" fill="#0055ff"/>
<rect x="451" y="215" width="11" height="11" fill="#000089"/>
<rect x="462" y="215" width="11" height="11" fill="#0000f1"/>
<rect x="473" y="215" width="11" height="11" fill="#0005ff"/>
<rect x="484" y="215" width="11" height="11" fill="#000092"/>
<rect x="495" y="215" width="11" height="11" fill="#0000b6"/>
<rect x="506" y="215" width="11" height="11" fill="#0000e8"/>
<rect x="517" y="215" width="11" height="11" fill="#0040ff"/>
<rect x="528" y="215" width="11" height="11" fill="#00e4f8"/>
<rect x="539" y="215" width="11" height="11" fill="#0000cd"/>
<rect x="550" y="215" width="11" height="11" fill="#0005ff"/>
<rect x="561" y="215" width="10" height="11" fill="#00008d"/>
<rect x="571" y="215" width="11" height="11" fill="#0000cd"/>
<rect x="582" y="215" width="11" height="11" fill="#0040ff"/>
<rect x="593" y="215" width="11" height="11" fill="#00d0ff"/>
<rect x="604" y="215" width="11" height="11" fill="#00d0ff"/>
<rect x="615" y="215" width="11" height="11" fill="#004dff"/>
<rect x="626" y="215" width="11" height="11" fill="#0000ff"/>
<rect x="637" y="215" width="11" height="11" fill="#43ffb4"/>
<rect x="648" y="215" width="11" height="11" fill="#002dff"/>
<rect x="178" y="226" width="11" height="11" fill="#0040ff"/>
<rect x="189" y="226" width="11" height="11" fill="#0018ff"/>
<rect x="200" y="226" width="11" height="11" fill="#0000e8"/>
<rect x="211" y="226" width="11" height="11" fill="#0018ff"/>
<rect x="222" y="226" width="11" height="11" fill="#0000ff"/>
<rect x="233" y="226" width="11" height="11" fill="#000080"/>
<rect x="244" y="226" width="11" height="11" fill="#0038ff"/>
<rect x="255" y="226" width="10" height="11" fill="#0020ff"/>
<rect x="265" y="226" width="11" height="11" fill="#0018ff"/>
<rect x="276" y="226" width="11" height="11" fill="#0000ff"/>
<rect x="287" y="226" width="11" height="11" fill="#0000ff"/>
<rect x="298" y="226" width="11" height="11" fill="#000dff"/>
<rect x="309" y="226" width="11" height="11" fill="#000089"/>
<rect x="320" y="226" width="11" height="11" fill="#000080"/>
<rect x="331" y="226" width="11" height="11" fill="#0000a4"/>
<rect x="342" y="226" width="11" height="11" fill="#004dff"/>
<rect x="353" y="226" width="11" height="11" fill="#0060ff"/>
<rect x="364" y="226" width="11" height="11" fill="#0040ff"/>
<rect x="375" y="226" width="11" height="11" fill="#0000da"/>
<rect x="386" y="226" width="11" height="11" fill="#0000f1"/>
<rect x="397" y="226" width="11" height="11" fill="#0045ff"/>
<rect x="408" y="226" width="10" height="11" fill="#0000bb"/>
<rect x="418" y="226" width="11" height="11" fill="#0000a4"/>
<rect x="429" y="226" width="11" height="11" fill="#0055ff"/>
<rect x="440" y="226" width="11" height="11" fill="#000089"/>
<rect x="451" y="226" width="11" height="11" fill="#0055ff"/>
<rect x="462" y="226" width="11" height="11" fill="#0000bb"/>
<rect x="473" y="226" width="11" height="11" fill="#0005ff"/>
<rect x="484" y="226" width="11" height="11" fill="#00009b"/>
<rect x="495" y="226" width="11" height="11" fill="#00008d"/>
<rect x="506" y="226" width="11" height="11" fill="#0000f1"/>
<rect x="517" y="226" width="11" height="11" fill="#0005ff"/>
<rect x="528" y="226" width="11" height="11" fill="#0000ff"/>
<rect x="539" y="226" width="11" height="11" fill="#0000bb"/>
<rect x="550" y="226" width="11" height="11" fill="#0005ff"/>
<rect x="561" y="226" width="10" height="11" fill="#000096"/>
<rect x="571" y="226" width="11" height="11" fill="#0000bb"/>
<rect x="582" y="226" width="11" height="11" fill="#0060ff"/>
<rect x="593" y="226" width="11" height="11" fill="#0040ff"/>
<rect x="604" y="226" width="11" height="11" fill="#000dff"/>
<rect x="615" y="226" width="11" height="11" fill="#0000ff"/>
<rect x="626" y="226" width="11" height="11" fill="#0000ff"/>
<rect x="637" y="226" width="11" height="11" fill="#004dff"/>
<rect x="648" y="226" width="11" height="11" fill="#0005ff"/>
<rect x="178" y="237" width="11" height="11" fill="#00bcff"/>
<rect x="189" y="237" width="11" height="11" fill="#009cff"/>
<rect x="200" y="237" width="11" height="11" fill="#0000f1"/>
<rect x="211" y="237" width="11" height="11" fill="#009cff"/>
<rect x="222" y="237" width="11" height="11" fill="#0040ff"/>
<rect x="233" y="237" width="11" height="11" fill="#000080"/>
<rect x="244" y="237" width="11" height="11" fill="#00a9ff"/>
<rect x="255" y="237" width="10" height="11" fill="#009cff"/>
<rect x="265" y="237" width="11" height="11" fill="#002dff"/>
<rect x="276" y="237" width="11" height="11" fill="#000dff"/>
<rect x="287" y="237" width="11" height="11" fill="#0018ff"/>
<rect x="298" y="237" width="11" height="11" fill="#1fffd7"/>
<rect x="309" y="237" width="11" height="11" fill="#000089"/>
<rect x="320" y="237" width="11" height="11" fill="#000080"/>
<rect x="331" y="237" width="11" height="11" fill="#0000cd"/>
<rect x="342" y="237" width="11" height="11" fill="#00dcfe"/>
<rect x="353" y="237" width="11" height="11" fill="#00a9ff"/>
<rect x="364" y="237" width="11" height="11" fill="#00a9ff"/>
<rect x="375" y="237" width="11" height="11" fill="#0000ff"/>
<rect x="386" y="237" width="11" height="11" fill="#0000f1"/>
<rect x="397" y="237" width="11" height="11" fill="#00a9ff"/>
<rect x="408" y="237" width="10" height="11" fill="#0000d6"/>
<rect x="418" y="237" width="11" height="11" fill="#000096"/>
<rect x="429" y="237" width="11" height="11" fill="#000089"/>
<rect x="440" y="237" width="11" height="11" fill="#0055ff"/>
<rect x="451" y="237" width="11" height="11" fill="#00ccff"/>
<rect x="462" y="237" width="11" height="11" fill="#0000bb"/>
<rect x="473" y="237" width="11" height="11" fill="#0045ff"/>
<rect x="484" y="237" width="11" height="11" fill="#00009b"/>
<rect x="495" y="237" width="11" height="11" fill="#0000bb"/>
<rect x="506" y="237" width="11" height="11" fill="#0000e8"/>
<rect x="517" y="237" width="11" height="11" fill="#00bcff"/>
<rect x="528" y="237" width="11" height="11" fill="#00bcff"/>
<rect x="539" y="237" width="11" height="11" fill="#0000da"/>
<rect x="550" y="237" width="11" height="11" fill="#000dff"/>
<rect x="561" y="237" width="10" height="11" fill="#00008d"/>
<rect x="571" y="237" width="11" height="11" fill="#0000cd"/>
<rect x="582" y="237" width="11" height="11" fill="#007dff"/>
<rect x="593" y="237" width="11" height="11" fill="#00a9ff"/>
<rect x="604" y="237" width="11" height="11" fill="#0ff9e7"/>
<rect x="615" y="237" width="11" height="11" fill="#0ff9e7"/>
<rect x="626" y="237" width="11" height="11" fill="#0000ff"/>
<rect x="637" y="237" width="11" height="11" fill="#30ffc7"/>
<rect x="648" y="237" width="11" height="11" fill="#00b0ff"/>
<rect x="178" y="248" width="11" height="11" fill="#00008d"/>
<rect x="189" y="248" width="11" height="11" fill="#0000a4"/>
<rect x="200" y="248" width="11" height="11" fill="#0000ad"/>
<rect x="211" y="248" width="11" height="11" fill="#0000a4"/>
<rect x="222" y="248" width="11" height="11" fill="#0000a4"/>
<rect x="233" y="248" width="11" height="11" fill="#000080"/>
<rect x="244" y="248" width="11" height="11" fill="#000096"/>
<rect x="255" y="248" width="10" height="11" fill="#000096"/>
<rect x="265" y="248" width="11" height="11" fill="#000096"/>
<rect x="276" y="248" width="11" height="11" fill="#00008d"/>
<rect x="287" y="248" width="11" height="11" fill="#0000a4"/>
<rect x="298" y="248" width="11" height="11" fill="#000096"/>
<rect x="309" y="248" width="11" height="11" fill="#000096"/>
<rect x="320" y="248" width="11" height="11" fill="#0000a4"/>
<rect x="331" y="248" width="11" height="11" fill="#00008d"/>
<rect x="342" y="248" width="11" height="11" fill="#000096"/>
<rect x="353" y="248" width="11" height="11" fill="#0000a4"/>
<rect x="364" y="248" width="11" height="11" fill="#000096"/>
<rect x="375" y="248" width="11" height="11" fill="#000096"/>
<rect x="386" y="248" width="11" height="11" fill="#00008d"/>
<rect x="397" y="248" width="11" height="11" fill="#000096"/>
<rect x="408" y="248" width="10" height="11" fill="#00008d"/>
<rect x="418" y="248" width="11" height="11" fill="#000089"/>
<rect x="429" y="248" width="11" height="11" fill="#000096"/>
<rect x="440" y="248" width="11" height="11" fill="#0000a4"/>
<rect x="451" y="248" width="11" height="11" fill="#000096"/>
<rect x="462" y="248" width="11" height="11" fill="#00008d"/>
<rect x="473" y="248" width="11" height="11" fill="#0000ad"/>
<rect x="484" y="248" width="11" height="11" fill="#000084"/>
<rect x="495" y="248" width="11" height="11" fill="#000084"/>
<rect x="506" y="248" width="11" height="11" fill="#0000a4"/>
<rect x="517" y="248" width="11" height="11" fill="#0000a4"/>
<rect x="528" y="248" width="11" height="11" fill="#0000a4"/>
<rect x="539" y="248" width="11" height="11" fill="#00008d"/>
<rect x="550" y="248" width="11" height="11" fill="#00008d"/>
<rect x="561" y="248" width="10" height="11" fill="#0000bb"/>
<rect x="571" y="248" width="11" height="11" fill="#00008d"/>
<rect x="582" y="248" width="11" height="11" fill="#00008d"/>
<rect x="593" y="248" width="11" height="11" fill="#00008d"/>
<rect x="604" y="248" width="11" height="11" fill="#00008d"/>
<rect x="615" y="248" width="11" height="11" fill="#000096"/>
<rect x="626" y="248" width="11" height="11" fill="#00008d"/>
<rect x="637" y="248" width="11" height="11" fill="#00008d"/>
<rect x="648" y="248" width="11" height="11" fill="#000096"/>
<rect x="178" y="259" width="11" height="11" fill="#0000a4"/>
<rect x="189" y="259" width="11" height="11" fill="#0000f1"/>
<rect x="200" y="259" width="11" height="11" fill="#0000ad"/>
<rect x="211" y="259" width="11" height="11" fill="#0000f1"/>
<rect x="222" y="259" width="11" height="11" fill="#0000f1"/>
<rect x="233" y="259" width="11" height="11" fill="#000089"/>
<rect x="244" y="259" width="11" height="11" fill="#0000a4"/>
<rect x="255" y="259" width="10" height="11" fill="#0000a4"/>
<rect x="265" y="259" width="11" height="11" fill="#0000ad"/>
<rect x="276" y="259" width="11" height="11" fill="#0000ad"/>
<rect x="287" y="259" width="11" height="11" fill="#ffd700"/>
<rect x="298" y="259" width="11" height="11" fill="#0000f1"/>
<rect x="309" y="259" width="11" height="11" fill="#0000ad"/>
<rect x="320" y="259" width="11" height="11" fill="#000084"/>
<rect x="331" y="259" width="11" height="11" fill="#000084"/>
<rect x="342" y="259" width="11" height="11" fill="#0000d6"/>
<rect x="353" y="259" width="11" height="11" fill="#0000d6"/>
<rect x="364" y="259" width="11" height="11" fill="#00009b"/>
<rect x="375" y="259" width="11" height="11" fill="#0000cd"/>
<rect x="386" y="259" width="11" height="11" fill="#00008d"/>
<rect x="397" y="259" width="11" height="11" fill="#0000a4"/>
<rect x="408" y="259" width="10" height="11" fill="#000089"/>
<rect x="418" y="259" width="11" height="11" fill="#00008d"/>
<rect x="429" y="259" width="11" height="11" fill="#0000d6"/>
<rect x="440" y="259" width="11" height="11" fill="#0000bb"/>
<rect x="451" y="259" width="11" height="11" fill="#0000d6"/>
<rect x="462" y="259" width="11" height="11" fill="#0000a8"/>
<rect x="473" y="259" width="11" height="11" fill="#0000ed"/>
<rect x="484" y="259" width="11" height="11" fill="#000084"/>
<rect x="495" y="259" width="11" height="11" fill="#000084"/>
<rect x="506" y="259" width="11" height="11" fill="#0000b6"/>
<rect x="517" y="259" width="11" height="11" fill="#0000ff"/>
<rect x="528" y="259" width="11" height="11" fill="#0000ed"/>
<rect x="539" y="259" width="11" height="11" fill="#800000"/>
<rect x="550" y="259" width="11" height="11" fill="#a4ff53"/>
<rect x="561" y="259" width="10" height="11" fill="#00008d"/>
<rect x="571" y="259" width="11" height="11" fill="#000096"/>
<rect x="582" y="259" width="11" height="11" fill="#0000ad"/>
<rect x="593" y="259" width="11" height="11" fill="#0000da"/>
<rect x="604" y="259" width="11" height="11" fill="#0000da"/>
<rect x="615" y="259" width="11" height="11" fill="#0000da"/>
<rect x="626" y="259" width="11" height="11" fill="#ff9f00"/>
<rect x="637" y="259" width="11" height="11" fill="#0000da"/>
<rect x="648" y="259" width="11" height="11" fill="#0000e8"/>
<rect x="178" y="270" width="11" height="11" fill="#e80000"/>
<rect x="189" y="270" width="11" height="11" fill="#0020ff"/>
<rect x="200" y="270" width="11" height="11" fill="#0000e8"/>
<rect x="211" y="270" width="11" height="11" fill="#0020ff"/>
<rect x="222" y="270" width="11" height="11" fill="#0000e8"/>
<rect x="233" y="270" width="11" height="11" fill="#00008d"/>
<rect x="244" y="270" width="11" height="11" fill="#b60000"/>
<rect x="255" y="270" width="10" height="11" fill="#ff9800"/>
<rect x="265" y="270" width="11" height="11" fill="#004dff"/>
<rect x="276" y="270" width="11" height="11" fill="#0000e8"/>
<rect x="287" y="270" width="11" height="11" fill="#0005ff"/>
<rect x="298" y="270" width="11" height="11" fill="#0038ff"/>
<rect x="309" y="270" width="11" height="11" fill="#000092"/>
<rect x="320" y="270" width="11" height="11" fill="#000084"/>
<rect x="331" y="270" width="11" height="11" fill="#002dff"/>
<rect x="342" y="270" width="11" height="11" fill="#00bcff"/>
<rect x="353" y="270" width="11" height="11" fill="#007dff"/>
<rect x="364" y="270" width="11" height="11" fill="#ff6f00"/>
<rect x="375" y="270" width="11" height="11" fill="#0000ff"/>
<rect x="386" y="270" width="11" height="11" fill="#0008ff"/>
<rect x="397" y="270" width="11" height="11" fill="#000089"/>
<rect x="408" y="270" width="10" height="11" fill="#0000a4"/>
<rect x="418" y="270" width="11" height="11" fill="#000096"/>
<rect x="429" y="270" width="11" height="11" fill="#00a9ff"/>
<rect x="440" y="270" width="11" height="11" fill="#0045ff"/>
<rect x="451" y="270" width="11" height="11" fill="#13fce4"/>
<rect x="462" y="270" width="11" height="11" fill="#0045ff"/>
<rect x="473" y="270" width="11" height="11" fill="#0000df"/>
<rect x="484" y="270" width="11" height="11" fill="#00009b"/>
<rect x="495" y="270" width="11" height="11" fill="#0000a4"/>
<rect x="506" y="270" width="11" height="11" fill="#0000d6"/>
<rect x="517" y="270" width="11" height="11" fill="#0000f6"/>
<rect x="528" y="270" width="11" height="11" fill="#002dff"/>
<rect x="539" y="270" width="11" height="11" fill="#0000a4"/>
<rect x="550" y="270" width="11" height="11" fill="#000dff"/>
<rect x="561" y="270" width="10" height="11" fill="#00008d"/>
<rect x="571" y="270" width="11" height="11" fill="#0000ad"/>
<rect x="582" y="270" width="11" height="11" fill="#004dff"/>
<rect x="593" y="270" width="11" height="11" fill="#0055ff"/>
<rect x="604" y="270" width="11" height="11" fill="#0055ff"/>
<rect x="615" y="270" width="11" height="11" fill="#0000ff"/>
<rect x="626" y="270" width="11" height="11" fill="#0000e8"/>
<rect x="637" y="270" width="11" height="11" fill="#0089ff"/>
<rect x="648" y="270" width="11" height="11" fill="#0000e8"/>
<rect x="178" y="281" width="11" height="10" fill="#0040ff"/>
<rect x="189" y="281" width="11" height="10" fill="#0005ff"/>
<rect x="200" y="281" width="11" height="10" fill="#0000ad"/>
<rect x="211" y="281" width="11" height="10" fill="#0000ff"/>
<rect x="222" y="281" width="11" height="10" fill="#004dff"/>
<rect x="233" y="281" width="11" height="10" fill="#004dff"/>
<rect x="244" y="281" width="11" height="10" fill="#0020ff"/>
<rect x="255" y="281" width="10" height="10" fill="#0020ff"/>
<rect x="265" y="281" width="11" height="10" fill="#0000da"/>
<rect x="276" y="281" width="11" height="10" fill="#0000da"/>
<rect x="287" y="281" width="11" height="10" fill="#0000ad"/>
<rect x="298" y="281" width="11" height="10" fill="#0000e8"/>
<rect x="309" y="281" width="11" height="10" fill="#000084"/>
<rect x="320" y="281" width="11" height="10" fill="#000084"/>
<rect x="331" y="281" width="11" height="10" fill="#0028ff"/>
<rect x="342" y="281" width="11" height="10" fill="#000dff"/>
<rect x="353" y="281" width="11" height="10" fill="#0000ff"/>
<rect x="364" y="281" width="11" height="10" fill="#0000ff"/>
<rect x="375" y="281" width="11" height="10" fill="#0000f1"/>
<rect x="386" y="281" width="11" height="10" fill="#000089"/>
<rect x="397" y="281" width="11" height="10" fill="#0008ff"/>
<rect x="408" y="281" width="10" height="10" fill="#00008d"/>
<rect x="418" y="281" width="11" height="10" fill="#00008d"/>
<rect x="429" y="281" width="11" height="10" fill="#0000f1"/>
<rect x="440" y="281" width="11" height="10" fill="#0000f1"/>
<rect x="451" y="281" width="11" height="10" fill="#0000ff"/>
<rect x="462" y="281" width="11" height="10" fill="#0000f1"/>
<rect x="473" y="281" width="11" height="10" fill="#0040ff"/>
<rect x="484" y="281" width="11" height="10" fill="#000096"/>
<rect x="495" y="281" width="11" height="10" fill="#00008d"/>
<rect x="506" y="281" width="11" height="10" fill="#0000e8"/>
<rect x="517" y="281" width="11" height="10" fill="#0000bb"/>
<rect x="528" y="281" width="11" height="10" fill="#0005ff"/>
<rect x="539" y="281" width="11" height="10" fill="#00008d"/>
<rect x="550" y="281" width="11" height="10" fill="#000096"/>
<rect x="561" y="281" width="10" height="10" fill="#00008d"/>
<rect x="571" y="281" width="11" height="10" fill="#000096"/>
<rect x="582" y="281" width="11" height="10" fill="#0000e8"/>
<rect x="593" y="281" width="11" height="10" fill="#0020ff"/>
<rect x="604" y="281" width="11" height="10" fill="#0000f1"/>
<rect x="615" y="281" width="11" height="10" fill="#0000bb"/>
<rect x="626" y="281" width="11" height="10" fill="#0000a4"/>
<rect x="637" y="281" width="11" height="10" fill="#0000ff"/>
<rect x="648" y="281" width="11" height="10" fill="#0000ad"/>
<rect x="178" y="291" width="11" height="11" fill="#0000ff"/>
<rect x="189" y="291" width="11" height="11" fill="#43ffb4"/>
<rect x="200" y="291" width="11" height="11" fill="#0000bb"/>
<rect x="211" y="291" width="11" height="11" fill="#43ffb4"/>
<rect x="222" y="291" width="11" height="11" fill="#0000f1"/>
<rect x="233" y="291" width="11" height="11" fill="#000080"/>
<rect x="244" y="291" width="11" height="11" fill="#0000ff"/>
<rect x="255" y="291" width="10" height="11" fill="#0000ff"/>
<rect x="265" y="291" width="11" height="11" fill="#0000ff"/>
<rect x="276" y="291" width="11" height="11" fill="#0000cd"/>
<rect x="287" y="291" width="11" height="11" fill="#0000e8"/>
<rect x="298" y="291" width="11" height="11" fill="#0040ff"/>
<rect x="309" y="291" width="11" height="11" fill="#000092"/>
<rect x="320" y="291" width="11" height="11" fill="#000084"/>
<rect x="331" y="291" width="11" height="11" fill="#0000ff"/>
<rect x="342" y="291" width="11" height="11" fill="#00dcfe"/>
<rect x="353" y="291" width="11" height="11" fill="#0018ff"/>
<rect x="364" y="291" width="11" height="11" fill="#0000f1"/>
<rect x="375" y="291" width="11" height="11" fill="#000089"/>
<rect x="386" y="291" width="11" height="11" fill="#0000f1"/>
<rect x="397" y="291" width="11" height="11" fill="#0000ff"/>
<rect x="408" y="291" width="10" height="11" fill="#0000cd"/>
<rect x="418" y="291" width="11" height="11" fill="#000096"/>
<rect x="429" y="291" width="11" height="11" fill="#0000ff"/>
<rect x="440" y="291" width="11" height="11" fill="#0000da"/>
<rect x="451" y="291" width="11" height="11" fill="#004dff"/>
<rect x="462" y="291" width="11" height="11" fill="#0000ad"/>
<rect x="473" y="291" width="11" height="11" fill="#0000e8"/>
<rect x="484" y="291" width="11" height="11" fill="#00008d"/>
<rect x="495" y="291" width="11" height="11" fill="#000096"/>
<rect x="506" y="291" width="11" height="11" fill="#0000da"/>
<rect x="517" y="291" width="11" height="11" fill="#0005ff"/>
<rect x="528" y="291" width="11" height="11" fill="#6aff8d"/>
<rect x="539" y="291" width="11" height="11" fill="#0000e8"/>
<rect x="550" y="291" width="11" height="11" fill="#0000bb"/>
<rect x="561" y="291" width="10" height="11" fill="#00008d"/>
<rect x="571" y="291" width="11" height="11" fill="#0000a4"/>
<rect x="582" y="291" width="11" height="11" fill="#0000da"/>
<rect x="593" y="291" width="11" height="11" fill="#00d0ff"/>
<rect x="604" y="291" width="11" height="11" fill="#0020ff"/>
<rect x="615" y="291" width="11" height="11" fill="#0000ff"/>
<rect x="626" y="291" width="11" height="11" fill="#0000e8"/>
<rect x="637" y="291" width="11" height="11" fill="#0094ff"/>
<rect x="648" y="291" width="11" height="11" fill="#0000ff"/>
<rect x="178" y="302" width="11" height="11" fill="#ff2d00"/>
<rect x="189" y="302" width="11" height="11" fill="#0020ff"/>
<rect x="200" y="302" width="11" height="11" fill="#0000e8"/>
<rect x="211" y="302" width="11" height="11" fill="#0018ff"/>
<rect x="222" y="302" width="11" height="11" fill="#0000f1"/>
<rect x="233" y="302" width="11" height="11" fill="#000080"/>
<rect x="244" y="302" width="11" height="11" fill="#ff5500"/>
<rect x="255" y="302" width="10" height="11" fill="#ff6f00"/>
<rect x="265" y="302" width="11" height="11" fill="#0040ff"/>
<rect x="276" y="302" width="11" height="11" fill="#0000f1"/>
<rect x="287" y="302" width="11" height="11" fill="#0000ff"/>
<rect x="298" y="302" width="11" height="11" fill="#002dff"/>
<rect x="309" y="302" width="11" height="11" fill="#000092"/>
<rect x="320" y="302" width="11" height="11" fill="#000084"/>
<rect x="331" y="302" width="11" height="11" fill="#0038ff"/>
<rect x="342" y="302" width="11" height="11" fill="#00b0ff"/>
<rect x="353" y="302" width="11" height="11" fill="#007dff"/>
<rect x="364" y="302" width="11" height="11" fill="#000089"/>
<rect x="375" y="302" width="11" height="11" fill="#0000f1"/>
<rect x="386" y="302" width="11" height="11" fill="#0000ff"/>
<rect x="397" y="302" width="11" height="11" fill="#ff6f00"/>
<rect x="408" y="302" width="10" height="11" fill="#00009b"/>
<rect x="418" y="302" width="11" height="11" fill="#000096"/>
<rect x="429" y="302" width="11" height="11" fill="#00a9ff"/>
<rect x="440" y="302" width="11" height="11" fill="#0040ff"/>
<rect x="451" y="302" width="11" height="11" fill="#0ff9e7"/>
<rect x="462" y="302" width="11" height="11" fill="#0068ff"/>
<rect x="473" y="302" width="11" height="11" fill="#0000e8"/>
<rect x="484" y="302" width="11" height="11" fill="#0000a4"/>
<rect x="495" y="302" width="11" height="11" fill="#0000a4"/>
<rect x="506" y="302" width="11" height="11" fill="#0000da"/>
<rect x="517" y="302" width="11" height="11" fill="#0000ff"/>
<rect x="528" y="302" width="11" height="11" fill="#0020ff"/>
<rect x="539" y="302" width="11" height="11" fill="#000096"/>
<rect x="550" y="302" width="11" height="11" fill="#0005ff"/>
<rect x="561" y="302" width="10" height="11" fill="#00008d"/>
<rect x="571" y="302" width="11" height="11" fill="#0000ad"/>
<rect x="582" y="302" width="11" height="11" fill="#0040ff"/>
<rect x="593" y="302" width="11" height="11" fill="#0060ff"/>
<rect x="604" y="302" width="11" height="11" fill="#004dff"/>
<rect x="615" y="302" width="11" height="11" fill="#0000ff"/>
<rect x="626" y="302" width="11" height="11" fill="#0000e8"/>
<rect x="637" y="302" width="11" height="11" fill="#0089ff"/>
<rect x="648" y="302" width="11" height="11" fill="#0000f1"/>
<rect x="178" y="313" width="11" height="11" fill="#0068ff"/>
<rect x="189" y="313" width="11" height="11" fill="#0068ff"/>
<rect x="200" y="313" width="11" height="11" fill="#0000e8"/>
<rect x="211" y="313" width="11" height="11" fill="#0075ff"/>
<rect x="222" y="313" width="11" height="11" fill="#0000ff"/>
<rect x="233" y="313" width="11" height="11" fill="#000080"/>
<rect x="244" y="313" width="11" height="11" fill="#007dff"/>
<rect x="255" y="313" width="10" height="11" fill="#007dff"/>
<rect x="265" y="313" width="11" height="11" fill="#002dff"/>
<rect x="276" y="313" width="11" height="11" fill="#000dff"/>
<rect x="287" y="313" width="11" height="11" fill="#0020ff"/>
<rect x="298" y="313" width="11" height="11" fill="#0075ff"/>
<rect x="309" y="313" width="11" height="11" fill="#000084"/>
<rect x="320" y="313" width="11" height="11" fill="#000084"/>
<rect x="331" y="313" width="11" height="11" fill="#0000ff"/>
<rect x="342" y="313" width="11" height="11" fill="#00dcfe"/>
<rect x="353" y="313" width="11" height="11" fill="#000089"/>
<rect x="364" y="313" width="11" height="11" fill="#007dff"/>
<rect x="375" y="313" width="11" height="11" fill="#0018ff"/>
<rect x="386" y="313" width="11" height="11" fill="#0000ff"/>
<rect x="397" y="313" width="11" height="11" fill="#007dff"/>
<rect x="408" y="313" width="10" height="11" fill="#0000d6"/>
<rect x="418" y="313" width="11" height="11" fill="#0000a4"/>
<rect x="429" y="313" width="11" height="11" fill="#00a9ff"/>
<rect x="440" y="313" width="11" height="11" fill="#0060ff"/>
<rect x="451" y="313" width="11" height="11" fill="#00c4ff"/>
<rect x="462" y="313" width="11" height="11" fill="#0000a4"/>
<rect x="473" y="313" width="11" height="11" fill="#0005ff"/>
<rect x="484" y="313" width="11" height="11" fill="#0000ad"/>
<rect x="495" y="313" width="11" height="11" fill="#000089"/>
<rect x="506" y="313" width="11" height="11" fill="#0000ff"/>
<rect x="517" y="313" width="11" height="11" fill="#0038ff"/>
<rect x="528" y="313" width="11" height="11" fill="#0094ff"/>
<rect x="539" y="313" width="11" height="11" fill="#0000da"/>
<rect x="550" y="313" width="11" height="11" fill="#000dff"/>
<rect x="561" y="313" width="10" height="11" fill="#0000ad"/>
<rect x="571" y="313" width="11" height="11" fill="#0000ad"/>
<rect x="582" y="313" width="11" height="11" fill="#002dff"/>
<rect x="593" y="313" width="11" height="11" fill="#0094ff"/>
<rect x="604" y="313" width="11" height="11" fill="#00a9ff"/>
<rect x="615" y="313" width="11" height="11" fill="#0038ff"/>
<rect x="626" y="313" width="11" height="11" fill="#0000ff"/>
<rect x="637" y="313" width="11" height="11" fill="#00a9ff"/>
<rect x="648" y="313" width="11" height="11" fill="#0018ff"/>
<rect x="178" y="324" width="11" height="11" fill="#00d0ff"/>
<rect x="189" y="324" width="11" height="11" fill="#7aff7d"/>
<rect x="200" y="324" width="11" height="11" fill="#0000e8"/>
<rect x="211" y="324" width="11" height="11" fill="#7aff7d"/>
<rect x="222" y="324" width="11" height="11" fill="#0018ff"/>
<rect x="233" y="324" width="11" height="11" fill="#000080"/>
<rect x="244" y="324" width="11" height="11" fill="#00bcff"/>
<rect x="255" y="324" width="10" height="11" fill="#00d0ff"/>
<rect x="265" y="324" width="11" height="11" fill="#0068ff"/>
<rect x="276" y="324" width="11" height="11" fill="#0038ff"/>
<rect x="287" y="324" width="11" height="11" fill="#0038ff"/>
<rect x="298" y="324" width="11" height="11" fill="#29ffce"/>
<rect x="309" y="324" width="11" height="11" fill="#000089"/>
<rect x="320" y="324" width="11" height="11" fill="#000084"/>
<rect x="331" y="324" width="11" height="11" fill="#0055ff"/>
<rect x="342" y="324" width="11" height="11" fill="#000089"/>
<rect x="353" y="324" width="11" height="11" fill="#00dcfe"/>
<rect x="364" y="324" width="11" height="11" fill="#00b0ff"/>
<rect x="375" y="324" width="11" height="11" fill="#00dcfe"/>
<rect x="386" y="324" width="11" height="11" fill="#000dff"/>
<rect x="397" y="324" width="11" height="11" fill="#00bcff"/>
<rect x="408" y="324" width="10" height="11" fill="#0000d6"/>
<rect x="418" y="324" width="11" height="11" fill="#000096"/>
<rect x="429" y="324" width="11" height="11" fill="#00dcfe"/>
<rect x="440" y="324" width="11" height="11" fill="#004dff"/>
<rect x="451" y="324" width="11" height="11" fill="#deff19"/>
<rect x="462" y="324" width="11" height="11" fill="#0000a4"/>
<rect x="473" y="324" width="11" height="11" fill="#0018ff"/>
<rect x="484" y="324" width="11" height="11" fill="#0000a4"/>
<rect x="495" y="324" width="11" height="11" fill="#0000bb"/>
<rect x="506" y="324" width="11" height="11" fill="#0000e8"/>
<rect x="517" y="324" width="11" height="11" fill="#0060ff"/>
<rect x="528" y="324" width="11" height="11" fill="#a4ff53"/>
<rect x="539" y="324" width="11" height="11" fill="#0000da"/>
<rect x="550" y="324" width="11" height="11" fill="#000dff"/>
<rect x="561" y="324" width="10" height="11" fill="#000096"/>
<rect x="571" y="324" width="11" height="11" fill="#0000bb"/>
<rect x="582" y="324" width="11" height="11" fill="#0040ff"/>
<rect x="593" y="324" width="11" height="11" fill="#7aff7d"/>
<rect x="604" y="324" width="11" height="11" fill="#00c4ff"/>
<rect x="615" y="324" width="11" height="11" fill="#0055ff"/>
<rect x="626" y="324" width="11" height="11" fill="#0000ff"/>
<rect x="637" y="324" width="11" height="11" fill="#9dff5a"/>
<rect x="648" y="324" width="11" height="11" fill="#0038ff"/>
<rect x="178" y="335" width="11" height="11" fill="#004dff"/>
<rect x="189" y="335" width="11" height="11" fill="#0000ff"/>
<rect x="200" y="335" width="11" height="11" fill="#000080"/>
<rect x="211" y="335" width="11" height="11" fill="#0000ff"/>
<rect x="222" y="335" width="11" height="11" fill="#000080"/>
<rect x="233" y="335" width="11" height="11" fill="#000080"/>
<rect x="244" y="335" width="11" height="11" fill="#0040ff"/>
<rect x="255" y="335" width="10" height="11" fill="#004dff"/>
<rect x="265" y="335" width="11" height="11" fill="#0000da"/>
<rect x="276" y="335" width="11" height="11" fill="#000080"/>
<rect x="287" y="335" width="11" height="11" fill="#000080"/>
<rect x="298" y="335" width="11" height="11" fill="#0000cd"/>
<rect x="309" y="335" width="11" height="11" fill="#000080"/>
<rect x="320" y="335" width="11" height="11" fill="#000080"/>
<rect x="331" y="335" width="11" height="11" fill="#000080"/>
<rect x="342" y="335" width="11" height="11" fill="#0055ff"/>
<rect x="353" y="335" width="11" height="11" fill="#0000ff"/>
<rect x="364" y="335" width="11" height="11" fill="#0038ff"/>
<rect x="375" y="335" width="11" height="11" fill="#0000ff"/>
<rect x="386" y="335" width="11" height="11" fill="#0028ff"/>
<rect x="397" y="335" width="11" height="11" fill="#002dff"/>
<rect x="408" y="335" width="10" height="11" fill="#000084"/>
<rect x="418" y="335" width="11" height="11" fill="#00008d"/>
<rect x="429" y="335" width="11" height="11" fill="#0000cd"/>
<rect x="440" y="335" width="11" height="11" fill="#0000a4"/>
<rect x="451" y="335" width="11" height="11" fill="#0038ff"/>
<rect x="462" y="335" width="11" height="11" fill="#000080"/>
<rect x="473" y="335" width="11" height="11" fill="#000089"/>
<rect x="484" y="335" width="11" height="11" fill="#000089"/>
<rect x="495" y="335" width="11" height="11" fill="#000089"/>
<rect x="506" y="335" width="11" height="11" fill="#000096"/>
<rect x="517" y="335" width="11" height="11" fill="#000096"/>
<rect x="528" y="335" width="11" height="11" fill="#0018ff"/>
<rect x="539" y="335" width="11" height="11" fill="#000080"/>
<rect x="550" y="335" width="11" height="11" fill="#000089"/>
<rect x="561" y="335" width="10" height="11" fill="#000089"/>
<rect x="571" y="335" width="11" height="11" fill="#000080"/>
<rect x="582" y="335" width="11" height="11" fill="#000096"/>
<rect x="593" y="335" width="11" height="11" fill="#0000ff"/>
<rect x="604" y="335" width="11" height="11" fill="#0000e8"/>
<rect x="615" y="335" width="11" height="11" fill="#00008d"/>
<rect x="626" y="335" width="11" height="11" fill="#000080"/>
<rect x="637" y="335" width="11" height="11" fill="#0020ff"/>
<rect x="648" y="335" width="11" height="11" fill="#000089"/>
<rect x="178" y="346" width="11" height="11" fill="#000080"/>
<rect x="189" y="346" width="11" height="11" fill="#000080"/>
<rect x="200" y="346" width="11" height="11" fill="#000080"/>
<rect x="211" y="346" width="11" height="11" fill="#000080"/>
<rect x="222" y="346" width="11" height="11" fill="#000080"/>
<rect x="233" y="346" width="11" height="11" fill="#000080"/>
<rect x="244" y="346" width="11" height="11" fill="#000080"/>
<rect x="255" y="346" width="10" height="11" fill="#000080"/>
<rect x="265" y="346" width="11" height="11" fill="#000080"/>
<rect x="276" y="346" width="11" height="11" fill="#000080"/>
<rect x="287" y="346" width="11" height="11" fill="#000080"/>
<rect x="298" y="346" width="11" height="11" fill="#000080"/>
<rect x="309" y="346" width="11" height="11" fill="#000080"/>
<rect x="320" y="346" width="11" height="11" fill="#000080"/>
<rect x="331" y="346" width="11" height="11" fill="#000080"/>
<rect x="342" y="346" width="11" height="11" fill="#000084"/>
<rect x="353" y="346" width="11" height="11" fill="#000084"/>
<rect x="364" y="346" width="11" height="11" fill="#000084"/>
<rect x="375" y="346" width="11" height="11" fill="#000084"/>
<rect x="386" y="346" width="11" height="11" fill="#000084"/>
<rect x="397" y="346" width="11" height="11" fill="#000084"/>
<rect x="408" y="346" width="10" height="11" fill="#000084"/>
<rect x="418" y="346" width="11" height="11" fill="#0000a4"/>
<rect x="429" y="346" width="11" height="11" fill="#000080"/>
<rect x="440" y="346" width="11" height="11" fill="#000080"/>
<rect x="451" y="346" width="11" height="11" fill="#000080"/>
<rect x="462" y="346" width="11" height="11" fill="#000080"/>
<rect x="473" y="346" width="11" height="11" fill="#000089"/>
<rect x="484" y="346" width="11" height="11" fill="#000089"/>
<rect x="495" y="346" width="11" height="11" fill="#000089"/>
<rect x="506" y="346" width="11" height="11" fill="#000089"/>
<rect x="517" y="346" width="11" height="11" fill="#000080"/>
<rect x="528" y="346" width="11" height="11" fill="#000080"/>
<rect x="539" y="346" width="11" height="11" fill="#000080"/>
<rect x="550" y="346" width="11" height="11" fill="#000089"/>
<rect x="561" y="346" width="10" height="11" fill="#000089"/>
<rect x="571" y="346" width="11" height="11" fill="#000080"/>
<rect x="582" y="346" width="11" height="11" fill="#000080"/>
<rect x="593" y="346" width="11" height="11" fill="#000080"/>
<rect x="604" y="346" width="11" height="11" fill="#000080"/>
<rect x="615" y="346" width="11" height="11" fill="#000080"/>
<rect x="626" y="346" width="11" height="11" fill="#000080"/>
<rect x="637" y="346" width="11" height="11" fill="#000080"/>
<rect x="648" y="346" width="11" height="11" fill="#000089"/>
<rect x="178" y="357" width="11" height="11" fill="#0000a4"/>
<rect x="189" y="357" width="11" height="11" fill="#0000ad"/>
<rect x="200" y="357" width="11" height="11" fill="#0000cd"/>
<rect x="211" y="357" width="11" height="11" fill="#0000ad"/>
<rect x="222" y="357" width="11" height="11" fill="#0000ad"/>
<rect x="233" y="357" width="11" height="11" fill="#000080"/>
<rect x="244" y="357" width="11" height="11" fill="#000096"/>
<rect x="255" y="357" width="10" height="11" fill="#000084"/>
<rect x="265" y="357" width="11" height="11" fill="#000084"/>
<rect x="276" y="357" width="11" height="11" fill="#000084"/>
<rect x="287" y="357" width="11" height="11" fill="#000084"/>
<rect x="298" y="357" width="11" height="11" fill="#0000ad"/>
<rect x="309" y="357" width="11" height="11" fill="#000080"/>
<rect x="320" y="357" width="11" height="11" fill="#000080"/>
<rect x="331" y="357" width="11" height="11" fill="#000080"/>
<rect x="342" y="357" width="11" height="11" fill="#000089"/>
<rect x="353" y="357" width="11" height="11" fill="#000084"/>
<rect x="364" y="357" width="11" height="11" fill="#000092"/>
<rect x="375" y="357" width="11" height="11" fill="#000092"/>
<rect x="386" y="357" width="11" height="11" fill="#000084"/>
<rect x="397" y="357" width="11" height="11" fill="#000092"/>
<rect x="408" y="357" width="10" height="11" fill="#0000ad"/>
<rect x="418" y="357" width="11" height="11" fill="#000096"/>
<rect x="429" y="357" width="11" height="11" fill="#000089"/>
<rect x="440" y="357" width="11" height="11" fill="#000089"/>
<rect x="451" y="357" width="11" height="11" fill="#000089"/>
<rect x="462" y="357" width="11" height="11" fill="#000089"/>
<rect x="473" y="357" width="11" height="11" fill="#0000bb"/>
<rect x="484" y="357" width="11" height="11" fill="#00008d"/>
<rect x="495" y="357" width="11" height="11" fill="#00008d"/>
<rect x="506" y="357" width="11" height="11" fill="#0000a4"/>
<rect x="517" y="357" width="11" height="11" fill="#0000da"/>
<rect x="528" y="357" width="11" height="11" fill="#000089"/>
<rect x="539" y="357" width="11" height="11" fill="#0000ad"/>
<rect x="550" y="357" width="11" height="11" fill="#000089"/>
<rect x="561" y="357" width="10" height="11" fill="#000089"/>
<rect x="571" y="357" width="11" height="11" fill="#000080"/>
<rect x="582" y="357" width="11" height="11" fill="#000080"/>
<rect x="593" y="357" width="11" height="11" fill="#000080"/>
<rect x="604" y="357" width="11" height="11" fill="#000080"/>
<rect x="615" y="357" width="11" height="11" fill="#000080"/>
<rect x="626" y="357" width="11" height="11" fill="#000080"/>
<rect x="637" y="357" width="11" height="11" fill="#000080"/>
<rect x="648" y="357" width="11" height="11" fill="#0000a4"/>
<rect x="178" y="368" width="11" height="11" fill="#0040ff"/>
<rect x="189" y="368" width="11" height="11" fill="#0ff9e7"/>
<rect x="200" y="368" width="11" height="11" fill="#0000da"/>
<rect x="211" y="368" width="11" height="11" fill="#0ff9e7"/>
<rect x="222" y="368" width="11" height="11" fill="#002dff"/>
<rect x="233" y="368" width="11" height="11" fill="#000084"/>
<rect x="244" y="368" width="11" height="11" fill="#002dff"/>
<rect x="255" y="368" width="10" height="11" fill="#002dff"/>
<rect x="265" y="368" width="11" height="11" fill="#0040ff"/>
<rect x="276" y="368" width="11" height="11" fill="#0000ff"/>
<rect x="287" y="368" width="11" height="11" fill="#0020ff"/>
<rect x="298" y="368" width="11" height="11" fill="#000089"/>
<rect x="309" y="368" width="11" height="11" fill="#0000ad"/>
<rect x="320" y="368" width="11" height="11" fill="#000080"/>
<rect x="331" y="368" width="11" height="11" fill="#0000cd"/>
<rect x="342" y="368" width="11" height="11" fill="#29ffce"/>
<rect x="353" y="368" width="11" height="11" fill="#0075ff"/>
<rect x="364" y="368" width="11" height="11" fill="#002dff"/>
<rect x="375" y="368" width="11" height="11" fill="#0040ff"/>
<rect x="386" y="368" width="11" height="11" fill="#0000e8"/>
<rect x="397" y="368" width="11" height="11" fill="#0038ff"/>
<rect x="408" y="368" width="10" height="11" fill="#0000f1"/>
<rect x="418" y="368" width="11" height="11" fill="#000096"/>
<rect x="429" y="368" width="11" height="11" fill="#1fffd7"/>
<rect x="440" y="368" width="11" height="11" fill="#000dff"/>
<rect x="451" y="368" width="11" height="11" fill="#00dcfe"/>
<rect x="462" y="368" width="11" height="11" fill="#0000ad"/>
<rect x="473" y="368" width="11" height="11" fill="#002dff"/>
<rect x="484" y="368" width="11" height="11" fill="#0000a4"/>
<rect x="495" y="368" width="11" height="11" fill="#0000bb"/>
<rect x="506" y="368" width="11" height="11" fill="#0000da"/>
<rect x="517" y="368" width="11" height="11" fill="#5aff9d"/>
<rect x="528" y="368" width="11" height="11" fill="#29ffce"/>
<rect x="539" y="368" width="11" height="11" fill="#0000f1"/>
<rect x="550" y="368" width="11" height="11" fill="#0000f1"/>
<rect x="561" y="368" width="10" height="11" fill="#000096"/>
<rect x="571" y="368" width="11" height="11" fill="#0000bb"/>
<rect x="582" y="368" width="11" height="11" fill="#0020ff"/>
<rect x="593" y="368" width="11" height="11" fill="#00bcff"/>
<rect x="604" y="368" width="11" height="11" fill="#39ffbe"/>
<rect x="615" y="368" width="11" height="11" fill="#1fffd7"/>
<rect x="626" y="368" width="11" height="11" fill="#0000ff"/>
<rect x="637" y="368" width="11" height="11" fill="#39ffbe"/>
<rect x="648" y="368" width="11" height="11" fill="#1fffd7"/>
<rect x="178" y="379" width="11" height="11" fill="#0000ff"/>
<rect x="189" y="379" width="11" height="11" fill="#0018ff"/>
<rect x="200" y="379" width="11" height="11" fill="#0000df"/>
<rect x="211" y="379" width="11" height="11" fill="#0015ff"/>
<rect x="222" y="379" width="11" height="11" fill="#000dff"/>
<rect x="233" y="379" width="11" height="11" fill="#000084"/>
<rect x="244" y="379" width="11" height="11" fill="#0000ff"/>
<rect x="255" y="379" width="10" height="11" fill="#0000ff"/>
<rect x="265" y="379" width="11" height="11" fill="#0000f1"/>
<rect x="276" y="379" width="11" height="11" fill="#0000f1"/>
<rect x="287" y="379" width="11" height="11" fill="#000089"/>
<rect x="298" y="379" width="11" height="11" fill="#0020ff"/>
<rect x="309" y="379" width="11" height="11" fill="#000084"/>
<rect x="320" y="379" width="11" height="11" fill="#000080"/>
<rect x="331" y="379" width="11" height="11" fill="#000080"/>
<rect x="342" y="379" width="11" height="11" fill="#0038ff"/>
<rect x="353" y="379" width="11" height="11" fill="#0020ff"/>
<rect x="364" y="379" width="11" height="11" fill="#0000ff"/>
<rect x="375" y="379" width="11" height="11" fill="#0000e8"/>
<rect x="386" y="379" width="11" height="11" fill="#0000ad"/>
<rect x="397" y="379" width="11" height="11" fill="#0005ff"/>
<rect x="408" y="379" width="10" height="11" fill="#ffd700"/>
<rect x="418" y="379" width="11" height="11" fill="#0000a4"/>
<rect x="429" y="379" width="11" height="11" fill="#0018ff"/>
<rect x="440" y="379" width="11" height="11" fill="#0000ff"/>
<rect x="451" y="379" width="11" height="11" fill="#000dff"/>
<rect x="462" y="379" width="11" height="11" fill="#0000ad"/>
<rect x="473" y="379" width="11" height="11" fill="#0005ff"/>
<rect x="484" y="379" width="11" height="11" fill="#0000a4"/>
<rect x="495" y="379" width="11" height="11" fill="#00008d"/>
<rect x="506" y="379" width="11" height="11" fill="#0000e8"/>
<rect x="517" y="379" width="11" height="11" fill="#000dff"/>
<rect x="528" y="379" width="11" height="11" fill="#0000ff"/>
<rect x="539" y="379" width="11" height="11" fill="#ffd000"/>
<rect x="550" y="379" width="11" height="11" fill="#f8f500"/>
<rect x="561" y="379" width="10" height="11" fill="#000096"/>
<rect x="571" y="379" width="11" height="11" fill="#0000ad"/>
<rect x="582" y="379" width="11" height="11" fill="#0000ff"/>
<rect x="593" y="379" width="11" height="11" fill="#002dff"/>
<rect x="604" y="379" width="11" height="11" fill="#0000ff"/>
<rect x="615" y="379" width="11" height="11" fill="#0005ff"/>
<rect x="626" y="379" width="11" height="11" fill="#ff4a00"/>
<rect x="637" y="379" width="11" height="11" fill="#0020ff"/>
<rect x="648" y="379" width="11" height="11" fill="#0000ff"/>
<rect x="178" y="390" width="11" height="11" fill="#0000ff"/>
<rect x="189" y="390" width="11" height="11" fill="#0000ff"/>
<rect x="200" y="390" width="11" height="11" fill="#0000da"/>
<rect x="211" y="390" width="11" height="11" fill="#0000ff"/>
<rect x="222" y="390" width="11" height="11" fill="#0000da"/>
<rect x="233" y="390" width="11" height="11" fill="#000084"/>
<rect x="244" y="390" width="11" height="11" fill="#0000ed"/>
<rect x="255" y="390" width="10" height="11" fill="#0000ed"/>
<rect x="265" y="390" width="11" height="11" fill="#0000da"/>
<rect x="276" y="390" width="11" height="11" fill="#00008d"/>
<rect x="287" y="390" width="11" height="11" fill="#0000f1"/>
<rect x="298" y="390" width="11" height="11" fill="#0000ff"/>
<rect x="309" y="390" width="11" height="11" fill="#000084"/>
<rect x="320" y="390" width="11" height="11" fill="#000080"/>
<rect x="331" y="390" width="11" height="11" fill="#000080"/>
<rect x="342" y="390" width="11" height="11" fill="#0038ff"/>
<rect x="353" y="390" width="11" height="11" fill="#000dff"/>
<rect x="364" y="390" width="11" height="11" fill="#0000f1"/>
<rect x="375" y="390" width="11" height="11" fill="#0000cd"/>
<rect x="386" y="390" width="11" height="11" fill="#0000da"/>
<rect x="397" y="390" width="11" height="11" fill="#0000e8"/>
<rect x="408" y="390" width="10" height="11" fill="#0000ad"/>
<rect x="418" y="390" width="11" height="11" fill="#00008d"/>
<rect x="429" y="390" width="11" height="11" fill="#000dff"/>
<rect x="440" y="390" width="11" height="11" fill="#0000ff"/>
<rect x="451" y="390" width="11" height="11" fill="#0020ff"/>
<rect x="462" y="390" width="11" height="11" fill="#0000bb"/>
<rect x="473" y="390" width="11" height="11" fill="#0000e8"/>
<rect x="484" y="390" width="11" height="11" fill="#0000a4"/>
<rect x="495" y="390" width="11" height="11" fill="#0000a4"/>
<rect x="506" y="390" width="11" height="11" fill="#0000da"/>
<rect x="517" y="390" width="11" height="11" fill="#0000ff"/>
<rect x="528" y="390" width="11" height="11" fill="#0005ff"/>
<rect x="539" y="390" width="11" height="11" fill="#0000ad"/>
<rect x="550" y="390" width="11" height="11" fill="#0000e8"/>
<rect x="561" y="390" width="10" height="11" fill="#00008d"/>
<rect x="571" y="390" width="11" height="11" fill="#0000a4"/>
<rect x="582" y="390" width="11" height="11" fill="#0020ff"/>
<rect x="593" y="390" width="11" height="11" fill="#000dff"/>
<rect x="604" y="390" width="11" height="11" fill="#0005ff"/>
<rect x="615" y="390" width="11" height="11" fill="#000dff"/>
<rect x="626" y="390" width="11" height="11" fill="#0000da"/>
<rect x="637" y="390" width="11" height="11" fill="#0020ff"/>
<rect x="648" y="390" width="11" height="11" fill="#0000ff"/>
<rect x="178" y="401" width="11" height="11" fill="#0055ff"/>
<rect x="189" y="401" width="11" height="11" fill="#0068ff"/>
<rect x="200" y="401" width="11" height="11" fill="#0000f1"/>
<rect x="211" y="401" width="11" height="11" fill="#0070ff"/>
<rect x="222" y="401" width="11" height="11" fill="#0000ff"/>
<rect x="233" y="401" width="11" height="11" fill="#000096"/>
<rect x="244" y="401" width="11" height="11" fill="#0055ff"/>
<rect x="255" y="401" width="10" height="11" fill="#0040ff"/>
<rect x="265" y="401" width="11" height="11" fill="#000089"/>
<rect x="276" y="401" width="11" height="11" fill="#0000da"/>
<rect x="287" y="401" width="11" height="11" fill="#0000f1"/>
<rect x="298" y="401" width="11" height="11" fill="#0040ff"/>
<rect x="309" y="401" width="11" height="11" fill="#000084"/>
<rect x="320" y="401" width="11" height="11" fill="#000080"/>
<rect x="331" y="401" width="11" height="11" fill="#0000da"/>
<rect x="342" y="401" width="11" height="11" fill="#0068ff"/>
<rect x="353" y="401" width="11" height="11" fill="#002dff"/>
<rect x="364" y="401" width="11" height="11" fill="#0040ff"/>
<rect x="375" y="401" width="11" height="11" fill="#0000ff"/>
<rect x="386" y="401" width="11" height="11" fill="#0000da"/>
<rect x="397" y="401" width="11" height="11" fill="#004dff"/>
<rect x="408" y="401" width="10" height="11" fill="#0000ad"/>
<rect x="418" y="401" width="11" height="11" fill="#000096"/>
<rect x="429" y="401" width="11" height="11" fill="#002dff"/>
<rect x="440" y="401" width="11" height="11" fill="#0018ff"/>
<rect x="451" y="401" width="11" height="11" fill="#0068ff"/>
<rect x="462" y="401" width="11" height="11" fill="#0000bb"/>
<rect x="473" y="401" width="11" height="11" fill="#0000ff"/>
<rect x="484" y="401" width="11" height="11" fill="#0000a4"/>
<rect x="495" y="401" width="11" height="11" fill="#0000ad"/>
<rect x="506" y="401" width="11" height="11" fill="#0000da"/>
<rect x="517" y="401" width="11" height="11" fill="#0000ff"/>
<rect x="528" y="401" width="11" height="11" fill="#002dff"/>
<rect x="539" y="401" width="11" height="11" fill="#0000ad"/>
<rect x="550" y="401" width="11" height="11" fill="#0000f1"/>
<rect x="561" y="401" width="10" height="11" fill="#000096"/>
<rect x="571" y="401" width="11" height="11" fill="#0000a4"/>
<rect x="582" y="401" width="11" height="11" fill="#0020ff"/>
<rect x="593" y="401" width="11" height="11" fill="#002dff"/>
<rect x="604" y="401" width="11" height="11" fill="#0020ff"/>
<rect x="615" y="401" width="11" height="11" fill="#0000ff"/>
<rect x="626" y="401" width="11" height="11" fill="#0000da"/>
<rect x="637" y="401" width="11" height="11" fill="#0038ff"/>
<rect x="648" y="401" width="11" height="11" fill="#0000f1"/>
<rect x="178" y="412" width="11" height="11" fill="#ff5500"/>
<rect x="189" y="412" width="11" height="11" fill="#0028ff"/>
<rect x="200" y="412" width="11" height="11" fill="#0000da"/>
<rect x="211" y="412" width="11" height="11" fill="#0028ff"/>
<rect x="222" y="412" width="11" height="11" fill="#0000e8"/>
<rect x="233" y="412" width="11" height="11" fill="#000089"/>
<rect x="244" y="412" width="11" height="11" fill="#ffab00"/>
<rect x="255" y="412" width="10" height="11" fill="#000089"/>
<rect x="265" y="412" width="11" height="11" fill="#0040ff"/>
<rect x="276" y="412" width="11" height="11" fill="#0000ed"/>
<rect x="287" y="412" width="11" height="11" fill="#0000ff"/>
<rect x="298" y="412" width="11" height="11" fill="#002dff"/>
<rect x="309" y="412" width="11" height="11" fill="#000084"/>
<rect x="320" y="412" width="11" height="11" fill="#000080"/>
<rect x="331" y="412" width="11" height="11" fill="#004dff"/>
<rect x="342" y="412" width="11" height="11" fill="#00d0ff"/>
<rect x="353" y="412" width="11" height="11" fill="#007dff"/>
<rect x="364" y="412" width="11" height="11" fill="#ff6f00"/>
<rect x="375" y="412" width="11" height="11" fill="#0000ff"/>
<rect x="386" y="412" width="11" height="11" fill="#0020ff"/>
<rect x="397" y="412" width="11" height="11" fill="#ff9800"/>
<rect x="408" y="412" width="10" height="11" fill="#0000a4"/>
<rect x="418" y="412" width="11" height="11" fill="#000096"/>
<rect x="429" y="412" width="11" height="11" fill="#009cff"/>
<rect x="440" y="412" width="11" height="11" fill="#0020ff"/>
<rect x="451" y="412" width="11" height="11" fill="#29ffce"/>
<rect x="462" y="412" width="11" height="11" fill="#0055ff"/>
<rect x="473" y="412" width="11" height="11" fill="#0000e8"/>
<rect x="484" y="412" width="11" height="11" fill="#0000a4"/>
<rect x="495" y="412" width="11" height="11" fill="#0000a4"/>
<rect x="506" y="412" width="11" height="11" fill="#0000da"/>
<rect x="517" y="412" width="11" height="11" fill="#0000f1"/>
<rect x="528" y="412" width="11" height="11" fill="#002dff"/>
<rect x="539" y="412" width="11" height="11" fill="#0000ad"/>
<rect x="550" y="412" width="11" height="11" fill="#0000ff"/>
<rect x="561" y="412" width="10" height="11" fill="#00008d"/>
<rect x="571" y="412" width="11" height="11" fill="#0000ad"/>
<rect x="582" y="412" width="11" height="11" fill="#0020ff"/>
<rect x="593" y="412" width="11" height="11" fill="#0060ff"/>
<rect x="604" y="412" width="11" height="11" fill="#0089ff"/>
<rect x="615" y="412" width="11" height="11" fill="#0000ff"/>
<rect x="626" y="412" width="11" height="11" fill="#0000da"/>
<rect x="637" y="412" width="11" height="11" fill="#0094ff"/>
<rect x="648" y="412" width="11" height="11" fill="#0000e8"/>
<rect x="178" y="423" width="11" height="11" fill="#f10800"/>
<rect x="189" y="423" width="11" height="11" fill="#0028ff"/>
<rect x="200" y="423" width="11" height="11" fill="#0000e8"/>
<rect x="211" y="423" width="11" height="11" fill="#0028ff"/>
<rect x="222" y="423" width="11" height="11" fill="#0000e8"/>
<rect x="233" y="423" width="11" height="11" fill="#000089"/>
<rect x="244" y="423" width="11" height="11" fill="#000089"/>
<rect x="255" y="423" width="10" height="11" fill="#ffab00"/>
<rect x="265" y="423" width="11" height="11" fill="#0055ff"/>
<rect x="276" y="423" width="11" height="11" fill="#0000ed"/>
<rect x="287" y="423" width="11" height="11" fill="#0000ff"/>
<rect x="298" y="423" width="11" height="11" fill="#002dff"/>
<rect x="309" y="423" width="11" height="11" fill="#000096"/>
<rect x="320" y="423" width="11" height="11" fill="#000080"/>
<rect x="331" y="423" width="11" height="11" fill="#0040ff"/>
<rect x="342" y="423" width="11" height="11" fill="#00bcff"/>
<rect x="353" y="423" width="11" height="11" fill="#007dff"/>
<rect x="364" y="423" width="11" height="11" fill="#ff5500"/>
<rect x="375" y="423" width="11" height="11" fill="#0000ff"/>
<rect x="386" y="423" width="11" height="11" fill="#0020ff"/>
<rect x="397" y="423" width="11" height="11" fill="#b60000"/>
<rect x="408" y="423" width="10" height="11" fill="#0000a4"/>
<rect x="418" y="423" width="11" height="11" fill="#000096"/>
<rect x="429" y="423" width="11" height="11" fill="#00a9ff"/>
<rect x="440" y="423" width="11" height="11" fill="#0038ff"/>
<rect x="451" y="423" width="11" height="11" fill="#0ff9e7"/>
<rect x="462" y="423" width="11" height="11" fill="#0055ff"/>
<rect x="473" y="423" width="11" height="11" fill="#0000e8"/>
<rect x="484" y="423" width="11" height="11" fill="#0000a4"/>
<rect x="495" y="423" width="11" height="11" fill="#0000a4"/>
<rect x="506" y="423" width="11" height="11" fill="#0000da"/>
<rect x="517" y="423" width="11" height="11" fill="#0000f1"/>
<rect x="528" y="423" width="11" height="11" fill="#002dff"/>
<rect x="539" y="423" width="11" height="11" fill="#0000ad"/>
<rect x="550" y="423" width="11" height="11" fill="#0000ff"/>
<rect x="561" y="423" width="10" height="11" fill="#00008d"/>
<rect x="571" y="423" width="11" height="11" fill="#0000ad"/>
<rect x="582" y="423" width="11" height="11" fill="#0040ff"/>
<rect x="593" y="423" width="11" height="11" fill="#0060ff"/>
<rect x="604" y="423" width="11" height="11" fill="#0060ff"/>
<rect x="615" y="423" width="11" height="11" fill="#0000ff"/>
<rect x="626" y="423" width="11" height="11" fill="#0000da"/>
<rect x="637" y="423" width="11" height="11" fill="#007dff"/>
<rect x="648" y="423" width="11" height="11" fill="#0000e8"/>
<rect x="178" y="434" width="11" height="10" fill="#000084"/>
<rect x="189" y="434" width="11" height="10" fill="#000084"/>
<rect x="200" y="434" width="11" height="10" fill="#000096"/>
<rect x="211" y="434" width="11" height="10" fill="#000084"/>
<rect x="222" y="434" width="11" height="10" fill="#0075ff"/>
<rect x="233" y="434" width="11" height="10" fill="#000089"/>
<rect x="244" y="434" width="11" height="10" fill="#000089"/>
<rect x="255" y="434" width="10" height="10" fill="#000089"/>
<rect x="265" y="434" width="11" height="10" fill="#000096"/>
<rect x="276" y="434" width="11" height="10" fill="#000084"/>
<rect x="287" y="434" width="11" height="10" fill="#000084"/>
<rect x="298" y="434" width="11" height="10" fill="#000084"/>
<rect x="309" y="434" width="11" height="10" fill="#000080"/>
<rect x="320" y="434" width="11" height="10" fill="#000080"/>
<rect x="331" y="434" width="11" height="10" fill="#000080"/>
<rect x="342" y="434" width="11" height="10" fill="#000080"/>
<rect x="353" y="434" width="11" height="10" fill="#000080"/>
<rect x="364" y="434" width="11" height="10" fill="#000080"/>
<rect x="375" y="434" width="11" height="10" fill="#000080"/>
<rect x="386" y="434" width="11" height="10" fill="#004dff"/>
<rect x="397" y="434" width="11" height="10" fill="#00008d"/>
<rect x="408" y="434" width="10" height="10" fill="#000089"/>
<rect x="418" y="434" width="11" height="10" fill="#000080"/>
<rect x="429" y="434" width="11" height="10" fill="#000080"/>
<rect x="440" y="434" width="11" height="10" fill="#000080"/>
<rect x="451" y="434" width="11" height="10" fill="#000080"/>
<rect x="462" y="434" width="11" height="10" fill="#002dff"/>
<rect x="473" y="434" width="11" height="10" fill="#0075ff"/>
<rect x="484" y="434" width="11" height="10" fill="#00008d"/>
<rect x="495" y="434" width="11" height="10" fill="#00008d"/>
<rect x="506" y="434" width="11" height="10" fill="#0000da"/>
<rect x="517" y="434" width="11" height="10" fill="#000089"/>
<rect x="528" y="434" width="11" height="10" fill="#000089"/>
<rect x="539" y="434" width="11" height="10" fill="#000089"/>
<rect x="550" y="434" width="11" height="10" fill="#000089"/>
<rect x="561" y="434" width="10" height="10" fill="#000080"/>
<rect x="571" y="434" width="11" height="10" fill="#000080"/>
<rect x="582" y="434" width="11" height="10" fill="#000096"/>
<rect x="593" y="434" width="11" height="10" fill="#0000ff"/>
<rect x="604" y="434" width="11" height="10" fill="#000080"/>
<rect x="615" y="434" width="11" height="10" fill="#000080"/>
<rect x="626" y="434" width="11" height="10" fill="#000080"/>
<rect x="637" y="434" width="11" height="10" fill="#000080"/>
<rect x="648" y="434" width="11" height="10" fill="#000080"/>
<rect x="178" y="444" width="11" height="11" fill="#0000cd"/>
<rect x="189" y="444" width="11" height="11" fill="#004dff"/>
<rect x="200" y="444" width="11" height="11" fill="#0000ff"/>
<rect x="211" y="444" width="11" height="11" fill="#004dff"/>
<rect x="222" y="444" width="11" height="11" fill="#000089"/>
<rect x="233" y="444" width="11" height="11" fill="#0075ff"/>
<rect x="244" y="444" width="11" height="11" fill="#0000e8"/>
<rect x="255" y="444" width="10" height="11" fill="#0000e8"/>
<rect x="265" y="444" width="11" height="11" fill="#0000ff"/>
<rect x="276" y="444" width="11" height="11" fill="#0000da"/>
<rect x="287" y="444" width="11" height="11" fill="#000dff"/>
<rect x="298" y="444" width="11" height="11" fill="#002dff"/>
<rect x="309" y="444" width="11" height="11" fill="#0000ad"/>
<rect x="320" y="444" width="11" height="11" fill="#000080"/>
<rect x="331" y="444" width="11" height="11" fill="#000080"/>
<rect x="342" y="444" width="11" height="11" fill="#0018ff"/>
<rect x="353" y="444" width="11" height="11" fill="#0000ff"/>
<rect x="364" y="444" width="11" height="11" fill="#0000f1"/>
<rect x="375" y="444" width="11" height="11" fill="#0000f1"/>
<rect x="386" y="444" width="11" height="11" fill="#004dff"/>
<rect x="397" y="444" width="11" height="11" fill="#0000e8"/>
<rect x="408" y="444" width="10" height="11" fill="#0000f1"/>
<rect x="418" y="444" width="11" height="11" fill="#0000a4"/>
<rect x="429" y="444" width="11" height="11" fill="#0040ff"/>
<rect x="440" y="444" width="11" height="11" fill="#0000ff"/>
<rect x="451" y="444" width="11" height="11" fill="#0000ff"/>
<rect x="462" y="444" width="11" height="11" fill="#0000ff"/>
<rect x="473" y="444" width="11" height="11" fill="#800000"/>
<rect x="484" y="444" width="11" height="11" fill="#00008d"/>
<rect x="495" y="444" width="11" height="11" fill="#00008d"/>
<rect x="506" y="444" width="11" height="11" fill="#0000ff"/>
<rect x="517" y="444" width="11" height="11" fill="#002dff"/>
<rect x="528" y="444" width="11" height="11" fill="#0038ff"/>
<rect x="539" y="444" width="11" height="11" fill="#0000f1"/>
<rect x="550" y="444" width="11" height="11" fill="#0000cd"/>
<rect x="561" y="444" width="10" height="11" fill="#000096"/>
<rect x="571" y="444" width="11" height="11" fill="#0000bb"/>
<rect x="582" y="444" width="11" height="11" fill="#0000ff"/>
<rect x="593" y="444" width="11" height="11" fill="#007dff"/>
<rect x="604" y="444" width="11" height="11" fill="#002dff"/>
<rect x="615" y="444" width="11" height="11" fill="#001dff"/>
<rect x="626" y="444" width="11" height="11" fill="#0000ff"/>
<rect x="637" y="444" width="11" height="11" fill="#0040ff"/>
<rect x="648" y="444" width="11" height="11" fill="#002dff"/>
<rect x="178" y="455" width="11" height="11" fill="#0020ff"/>
<rect x="189" y="455" width="11" height="11" fill="#800000"/>
<rect x="200" y="455" width="11" height="11" fill="#0000f1"/>
<rect x="211" y="455" width="11" height="11" fill="#000089"/>
<rect x="222" y="455" width="11" height="11" fill="#004dff"/>
<rect x="233" y="455" width="11" height="11" fill="#000084"/>
<rect x="244" y="455" width="11" height="11" fill="#0028ff"/>
<rect x="255" y="455" width="10" height="11" fill="#0028ff"/>
<rect x="265" y="455" width="11" height="11" fill="#0070ff"/>
<rect x="276" y="455" width="11" height="11" fill="#0000ff"/>
<rect x="287" y="455" width="11" height="11" fill="#0015ff"/>
<rect x="298" y="455" width="11" height="11" fill="#0ff9e7"/>
<rect x="309" y="455" width="11" height="11" fill="#0000ad"/>
<rect x="320" y="455" width="11" height="11" fill="#000080"/>
<rect x="331" y="455" width="11" height="11" fill="#0000ff"/>
<rect x="342" y="455" width="11" height="11" fill="#7aff7d"/>
<rect x="353" y="455" width="11" height="11" fill="#0075ff"/>
<rect x="364" y="455" width="11" height="11" fill="#0018ff"/>
<rect x="375" y="455" width="11" height="11" fill="#43ffb4"/>
<rect x="386" y="455" width="11" height="11" fill="#0000ff"/>
<rect x="397" y="455" width="11" height="11" fill="#0020ff"/>
<rect x="408" y="455" width="10" height="11" fill="#0000f1"/>
<rect x="418" y="455" width="11" height="11" fill="#0000a4"/>
<rect x="429" y="455" width="11" height="11" fill="#009cff"/>
<rect x="440" y="455" width="11" height="11" fill="#0018ff"/>
<rect x="451" y="455" width="11" height="11" fill="#00d0ff"/>
<rect x="462" y="455" width="11" height="11" fill="#0000ad"/>
<rect x="473" y="455" width="11" height="11" fill="#0040ff"/>
<rect x="484" y="455" width="11" height="11" fill="#00008d"/>
<rect x="495" y="455" width="11" height="11" fill="#0000bb"/>
<rect x="506" y="455" width="11" height="11" fill="#0000ff"/>
<rect x="517" y="455" width="11" height="11" fill="#009cff"/>
<rect x="528" y="455" width="11" height="11" fill="#f8f500"/>
<rect x="539" y="455" width="11" height="11" fill="#0000f1"/>
<rect x="550" y="455" width="11" height="11" fill="#0000cd"/>
<rect x="561" y="455" width="10" height="11" fill="#000096"/>
<rect x="571" y="455" width="11" height="11" fill="#0000bb"/>
<rect x="582" y="455" width="11" height="11" fill="#0000ff"/>
<rect x="593" y="455" width="11" height="11" fill="#43ffb4"/>
<rect x="604" y="455" width="11" height="11" fill="#00c4ff"/>
<rect x="615" y="455" width="11" height="11" fill="#0075ff"/>
<rect x="626" y="455" width="11" height="11" fill="#0000ff"/>
<rect x="637" y="455" width="11" height="11" fill="#43ffb4"/>
<rect x="648" y="455" width="11" height="11" fill="#0060ff"/>
<rect x="178" y="466" width="11" height="11" fill="#0000e8"/>
<rect x="189" y="466" width="11" height="11" fill="#0000f1"/>
<rect x="200" y="466" width="11" height="11" fill="#000089"/>
<rect x="211" y="466" width="11" height="11" fill="#0000f1"/>
<rect x="222" y="466" width="11" height="11" fill="#0000ff"/>
<rect x="233" y="466" width="11" height="11" fill="#000096"/>
<rect x="244" y="466" width="11" height="11" fill="#0000e8"/>
<rect x="255" y="466" width="10" height="11" fill="#0000da"/>
<rect x="265" y="466" width="11" height="11" fill="#0000f1"/>
<rect x="276" y="466" width="11" height="11" fill="#0000da"/>
<rect x="287" y="466" width="11" height="11" fill="#0000df"/>
<rect x="298" y="466" width="11" height="11" fill="#0000da"/>
<rect x="309" y="466" width="11" height="11" fill="#0000cd"/>
<rect x="320" y="466" width="11" height="11" fill="#000080"/>
<rect x="331" y="466" width="11" height="11" fill="#000080"/>
<rect x="342" y="466" width="11" height="11" fill="#0000e8"/>
<rect x="353" y="466" width="11" height="11" fill="#0000e8"/>
<rect x="364" y="466" width="11" height="11" fill="#0000e8"/>
<rect x="375" y="466" width="11" height="11" fill="#0000bb"/>
<rect x="386" y="466" width="11" height="11" fill="#0000ad"/>
<rect x="397" y="466" width="11" height="11" fill="#0000e8"/>
<rect x="408" y="466" width="10" height="11" fill="#0000ad"/>
<rect x="418" y="466" width="11" height="11" fill="#0000ad"/>
<rect x="429" y="466" width="11" height="11" fill="#0000f1"/>
<rect x="440" y="466" width="11" height="11" fill="#0000e8"/>
<rect x="451" y="466" width="11" height="11" fill="#0000da"/>
<rect x="462" y="466" width="11" height="11" fill="#0000a4"/>
<rect x="473" y="466" width="11" height="11" fill="#0005ff"/>
<rect x="484" y="466" width="11" height="11" fill="#0000a4"/>
<rect x="495" y="466" width="11" height="11" fill="#000096"/>
<rect x="506" y="466" width="11" height="11" fill="#0000ff"/>
<rect x="517" y="466" width="11" height="11" fill="#0000ff"/>
<rect x="528" y="466" width="11" height="11" fill="#0000d6"/>
<rect x="539" y="466" width="11" height="11" fill="#0000a4"/>
<rect x="550" y="466" width="11" height="11" fill="#0000cd"/>
<rect x="561" y="466" width="10" height="11" fill="#000096"/>
<rect x="571" y="466" width="11" height="11" fill="#000096"/>
<rect x="582" y="466" width="11" height="11" fill="#0000f1"/>
<rect x="593" y="466" width="11" height="11" fill="#0000e8"/>
<rect x="604" y="466" width="11" height="11" fill="#0000b6"/>
<rect x="615" y="466" width="11" height="11" fill="#0000cd"/>
<rect x="626" y="466" width="11" height="11" fill="#0000da"/>
<rect x="637" y="466" width="11" height="11" fill="#0000f1"/>
<rect x="648" y="466" width="11" height="11" fill="#0000cd"/>
<rect x="178" y="477" width="11" height="11" fill="#0020ff"/>
<rect x="189" y="477" width="11" height="11" fill="#000089"/>
<rect x="200" y="477" width="11" height="11" fill="#0000f1"/>
<rect x="211" y="477" width="11" height="11" fill="#800000"/>
<rect x="222" y="477" width="11" height="11" fill="#004dff"/>
<rect x="233" y="477" width="11" height="11" fill="#000084"/>
<rect x="244" y="477" width="11" height="11" fill="#0028ff"/>
<rect x="255" y="477" width="10" height="11" fill="#0028ff"/>
<rect x="265" y="477" width="11" height="11" fill="#0068ff"/>
<rect x="276" y="477" width="11" height="11" fill="#0000ff"/>
<rect x="287" y="477" width="11" height="11" fill="#0018ff"/>
<rect x="298" y="477" width="11" height="11" fill="#0ff9e7"/>
<rect x="309" y="477" width="11" height="11" fill="#0000ad"/>
<rect x="320" y="477" width="11" height="11" fill="#000080"/>
<rect x="331" y="477" width="11" height="11" fill="#0000ff"/>
<rect x="342" y="477" width="11" height="11" fill="#7aff7d"/>
<rect x="353" y="477" width="11" height="11" fill="#0068ff"/>
<rect x="364" y="477" width="11" height="11" fill="#0020ff"/>
<rect x="375" y="477" width="11" height="11" fill="#43ffb4"/>
<rect x="386" y="477" width="11" height="11" fill="#0005ff"/>
<rect x="397" y="477" width="11" height="11" fill="#0020ff"/>
<rect x="408" y="477" width="10" height="11" fill="#0000f1"/>
<rect x="418" y="477" width="11" height="11" fill="#0000a4"/>
<rect x="429" y="477" width="11" height="11" fill="#009cff"/>
<rect x="440" y="477" width="11" height="11" fill="#0018ff"/>
<rect x="451" y="477" width="11" height="11" fill="#00d0ff"/>
<rect x="462" y="477" width="11" height="11" fill="#0000ad"/>
<rect x="473" y="477" width="11" height="11" fill="#004dff"/>
<rect x="484" y="477" width="11" height="11" fill="#00008d"/>
<rect x="495" y="477" width="11" height="11" fill="#0000bb"/>
<rect x="506" y="477" width="11" height="11" fill="#0000ff"/>
<rect x="517" y="477" width="11" height="11" fill="#009cff"/>
<rect x="528" y="477" width="11" height="11" fill="#f8f500"/>
<rect x="539" y="477" width="11" height="11" fill="#0000f1"/>
<rect x="550" y="477" width="11" height="11" fill="#0000cd"/>
<rect x="561" y="477" width="10" height="11" fill="#000096"/>
<rect x="571" y="477" width="11" height="11" fill="#0000bb"/>
<rect x="582" y="477" width="11" height="11" fill="#0000ff"/>
<rect x="593" y="477" width="11" height="11" fill="#43ffb4"/>
<rect x="604" y="477" width="11" height="11" fill="#00c4ff"/>
<rect x="615" y="477" width="11" height="11" fill="#0075ff"/>
<rect x="626" y="477" width="11" height="11" fill="#0000ff"/>
<rect x="637" y="477" width="11" height="11" fill="#43ffb4"/>
<rect x="648" y="477" width="11" height="11" fill="#0060ff"/>
<rect x="178" y="488" width="11" height="11" fill="#000089"/>
<rect x="189" y="488" width="11" height="11" fill="#0020ff"/>
<rect x="200" y="488" width="11" height="11" fill="#0000e8"/>
<rect x="211" y="488" width="11" height="11" fill="#0020ff"/>
<rect x="222" y="488" width="11" height="11" fill="#0000cd"/>
<rect x="233" y="488" width="11" height="11" fill="#000084"/>
<rect x="244" y="488" width="11" height="11" fill="#f10800"/>
<rect x="255" y="488" width="10" height="11" fill="#ff5500"/>
<rect x="265" y="488" width="11" height="11" fill="#0055ff"/>
<rect x="276" y="488" width="11" height="11" fill="#0000ff"/>
<rect x="287" y="488" width="11" height="11" fill="#0000ff"/>
<rect x="298" y="488" width="11" height="11" fill="#0040ff"/>
<rect x="309" y="488" width="11" height="11" fill="#0000a4"/>
<rect x="320" y="488" width="11" height="11" fill="#000080"/>
<rect x="331" y="488" width="11" height="11" fill="#004dff"/>
<rect x="342" y="488" width="11" height="11" fill="#00d0ff"/>
<rect x="353" y="488" width="11" height="11" fill="#0068ff"/>
<rect x="364" y="488" width="11" height="11" fill="#ff2d00"/>
<rect x="375" y="488" width="11" height="11" fill="#0000ff"/>
<rect x="386" y="488" width="11" height="11" fill="#0040ff"/>
<rect x="397" y="488" width="11" height="11" fill="#e80000"/>
<rect x="408" y="488" width="10" height="11" fill="#0000a4"/>
<rect x="418" y="488" width="11" height="11" fill="#00008d"/>
<rect x="429" y="488" width="11" height="11" fill="#00bcff"/>
<rect x="440" y="488" width="11" height="11" fill="#0040ff"/>
<rect x="451" y="488" width="11" height="11" fill="#29ffce"/>
<rect x="462" y="488" width="11" height="11" fill="#0040ff"/>
<rect x="473" y="488" width="11" height="11" fill="#0000cd"/>
<rect x="484" y="488" width="11" height="11" fill="#0000ad"/>
<rect x="495" y="488" width="11" height="11" fill="#0000ad"/>
<rect x="506" y="488" width="11" height="11" fill="#0000e8"/>
<rect x="517" y="488" width="11" height="11" fill="#0000ff"/>
<rect x="528" y="488" width="11" height="11" fill="#0018ff"/>
<rect x="539" y="488" width="11" height="11" fill="#0000a4"/>
<rect x="550" y="488" width="11" height="11" fill="#0000ff"/>
<rect x="561" y="488" width="10" height="11" fill="#000096"/>
<rect x="571" y="488" width="11" height="11" fill="#0000a4"/>
<rect x="582" y="488" width="11" height="11" fill="#0020ff"/>
<rect x="593" y="488" width="11" height="11" fill="#004dff"/>
<rect x="604" y="488" width="11" height="11" fill="#004dff"/>
<rect x="615" y="488" width="11" height="11" fill="#0000ff"/>
<rect x="626" y="488" width="11" height="11" fill="#0000da"/>
<rect x="637" y="488" width="11" height="11" fill="#0094ff"/>
<rect x="648" y="488" width="11" height="11" fill="#0000cd"/>
</g>
<rect x="666.40" y="19.40" width="40.30" height="480.10" fill="url(#jet)"/>
<path d="M178.50 24.86h6.20M658.80 24.86h-6.20M178.50 35.77h6.20M658.80 35.77h-6.20M178.50 46.68h6.20M658.80 46.68h-6.20M178.50 57.59h6.20M658.80 57.59h-6.20M178.50 68.50h6.20M658.80 68.50h-6.20M178.50 79.41h6.20M658.80 79.41h-6.20M178.50 90.32h6.20M658.80 90.32h-6.20M178.50 101.24h6.20M658.80 101.24h-6.20M178.50 112.15h6.20M658.80 112.15h-6.20M178.50 123.06h6.20M658.80 123.06h-6.20M178.50 133.97h6.20M658.80 133.97h-6.20M178.50 144.88h6.20M658.80 144.88h-6.20M178.50 155.79h6.20M658.80 155.79h-6.20M178.50 166.70h6.20M658.80 166.70h-6.20M178.50 177.61h6.20M658.80 177.61h-6.20M178.50 188.53h6.20M658.80 188.53h-6.20M178.50 199.44h6.20M658.80 199.44h-6.20M178.50 210.35h6.20M658.80 210.35h-6.20M178.50 221.26h6.20M658.80 221.26h-6.20M178.50 232.17h6.20M658.80 232.17h-6.20M178.50 243.08h6.20M658.80 243.08h-6.20M178.50 253.99h6.20M658.80 253.99h-6.20M178.50 264.91h6.20M658.80 264.91h-6.20M178.50 275.82h6.20M658.80 275.82h-6.20M178.50 286.73h6.20M658.80 286.73h-6.20M178.50 297.64h6.20M658.80 297.64h-6.20M178.50 308.55h6.20M658.80 308.55h-6.20M178.50 319.46h6.20M658.80 319.46h-6.20M178.50 330.37h6.20M658.80 330.37h-6.20M178.50 341.29h6.20M658.80 341.29h-6.20M178.50 352.20h6.20M658.80 352.20h-6.20M178.50 363.11h6.20M658.80 363.11h-6.20M178.50 374.02h6.20M658.80 374.02h-6.20M178.50 384.93h6.20M658.80 384.93h-6.20M178.50 395.84h6.20M658.80 395.84h-6.20M178.50 406.75h6.20M658.80 406.75h-6.20M178.50 417.66h6.20M658.80 417.66h-6.20M178.50 428.58h6.20M658.80 428.58h-6.20M178.50 439.49h6.20M658.80 439.49h-6.20M178.50 450.40h6.20M658.80 450.40h-6.20M178.50 461.31h6.20M658.80 461.31h-6.20M178.50 472.22h6.20M658.80 472.22h-6.20M178.50 483.13h6.20M658.80 483.13h-6.20M178.50 494.04h6.20M658.80 494.04h-6.20M706.70 499.50h-6.20M706.70 451.49h-6.20M706.70 403.48h-6.20M706.70 355.47h-6.20M706.70 307.46h-6.20M706.70 259.45h-6.20M706.70 211.44h-6.20M706.70 163.43h-6.20M706.70 115.42h-6.20M706.70 67.41h-6.20M706.70 19.40h-6.20" stroke="#000" stroke-width="0.9" fill="none"/>
<rect x="10.45" y="19.40" width="160.45" height="480.10" fill="none" stroke="#000" stroke-width="1.2"/>
<rect x="178.50" y="19.40" width="480.30" height="480.10" fill="none" stroke="#000" stroke-width="1.2"/>
<rect x="666.40" y="19.40" width="40.30" height="480.10" fill="none" stroke="#000" stroke-width="1.2"/>
</svg>
<div class="yl" style="top:18.86px">T0990RR122_1</div>
<div class="yl" style="top:29.77px">T0990RR292_1</div>
<div class="yl" style="top:40.68px">T0990RR475_1</div>
<div class="yl" style="top:51.59px">T0990RR430_1</div>
<div class="yl" style="top:62.50px">T0990RR491_1</div>
<div class="yl" style="top:73.41px">T0990RR036_1</div>
<div class="yl" style="top:84.32px">T0990RR224_1</div>
<div class="yl" style="top:95.24px">T0990RR269_1</div>
<div class="yl" style="top:106.15px">T0990RR152_1</div>
<div class="yl" style="top:117.06px">T0990RR001_1</div>
<div class="yl" style="top:127.97px">T0990RR091_1</div>
<div class="yl" style="top:138.88px">T0990RR180_1</div>
<div class="yl" style="top:149.79px">T0990RR498_1</div>
<div class="yl" style="top:160.70px">T0990RR064_1</div>
<div class="yl" style="top:171.61px">T0990RR348_1</div>
<div class="yl" style="top:182.53px">T0990RR020_1</div>
<div class="yl" style="top:193.44px">T0990RR352_1</div>
<div class="yl" style="top:204.35px">T0990RR471_1</div>
<div class="yl" style="top:215.26px">T0990RR110_1</div>
<div class="yl" style="top:226.17px">T0990RR407_1</div>
<div class="yl" style="top:237.08px">T0990RR381_1</div>
<div class="yl" style="top:247.99px">T0990RR497_1</div>
<div class="yl" style="top:258.91px">T0990RR263_1</div>
<div class="yl" style="top:269.82px">T0990RR243_1</div>
<div class="yl" style="top:280.73px">T0990RR041_1</div>
<div class="yl" style="top:291.64px">T0990RR125_1</div>
<div class="yl" style="top:302.55px">T0990RR058_1</div>
<div class="yl" style="top:313.46px">T0990RR229_1</div>
<div class="yl" style="top:324.37px">T0990RR351_1</div>
<div class="yl" style="top:335.29px">T0990RR458_1</div>
<div class="yl" style="top:346.20px">T0990RR127_1</div>
<div class="yl" style="top:357.11px">T0990RR392_1</div>
<div class="yl" style="top:368.02px">T0990RR189_1</div>
<div class="yl" style="top:378.93px">T0990RR154_1</div>
<div class="yl" style="top:389.84px">T0990RR386_1</div>
<div class="yl" style="top:400.75px">T0990RR312_1</div>
<div class="yl" style="top:411.66px">T0990RR435_1</div>
<div class="yl" style="top:422.58px">T0990RR023_1</div>
<div class="yl" style="top:433.49px">T0990RR164_1</div>
<div class="yl" style="top:444.40px">T0990RR106_1</div>
<div class="yl" style="top:455.31px">T0990RR032_1</div>
<div class="yl" style="top:466.22px">T0990RR344_1</div>
<div class="yl" style="top:477.13px">T0990RR323_1</div>
<div class="yl" style="top:488.04px">T0990RR089_1</div>
<div class="cl" style="top:488.50px">0.0</div>
<div class="cl" style="top:441.49px">0.1</div>
<div class="cl" style="top:393.48px">0.2</div>
<div class="cl" style="top:345.47px">0.3</div>
<div class="cl" style="top:297.46px">0.4</div>
<div class="cl" style="top:249.45px">0.5</div>
<div class="cl" style="top:201.44px">0.6</div>
<div class="cl" style="top:153.43px">0.7</div>
<div class="cl" style="top:105.42px">0.8</div>
<div class="cl" style="top:57.41px">0.9</div>
<div class="cl" style="top:9.40px">1.0</div>
<svg width="747" height="518" viewBox="0 0 747 518" style="z-index:3"><path d="M90.55 24.86V494.04" stroke="#0000ff" stroke-width="1.2" fill="none"/></svg>
</body></html>
